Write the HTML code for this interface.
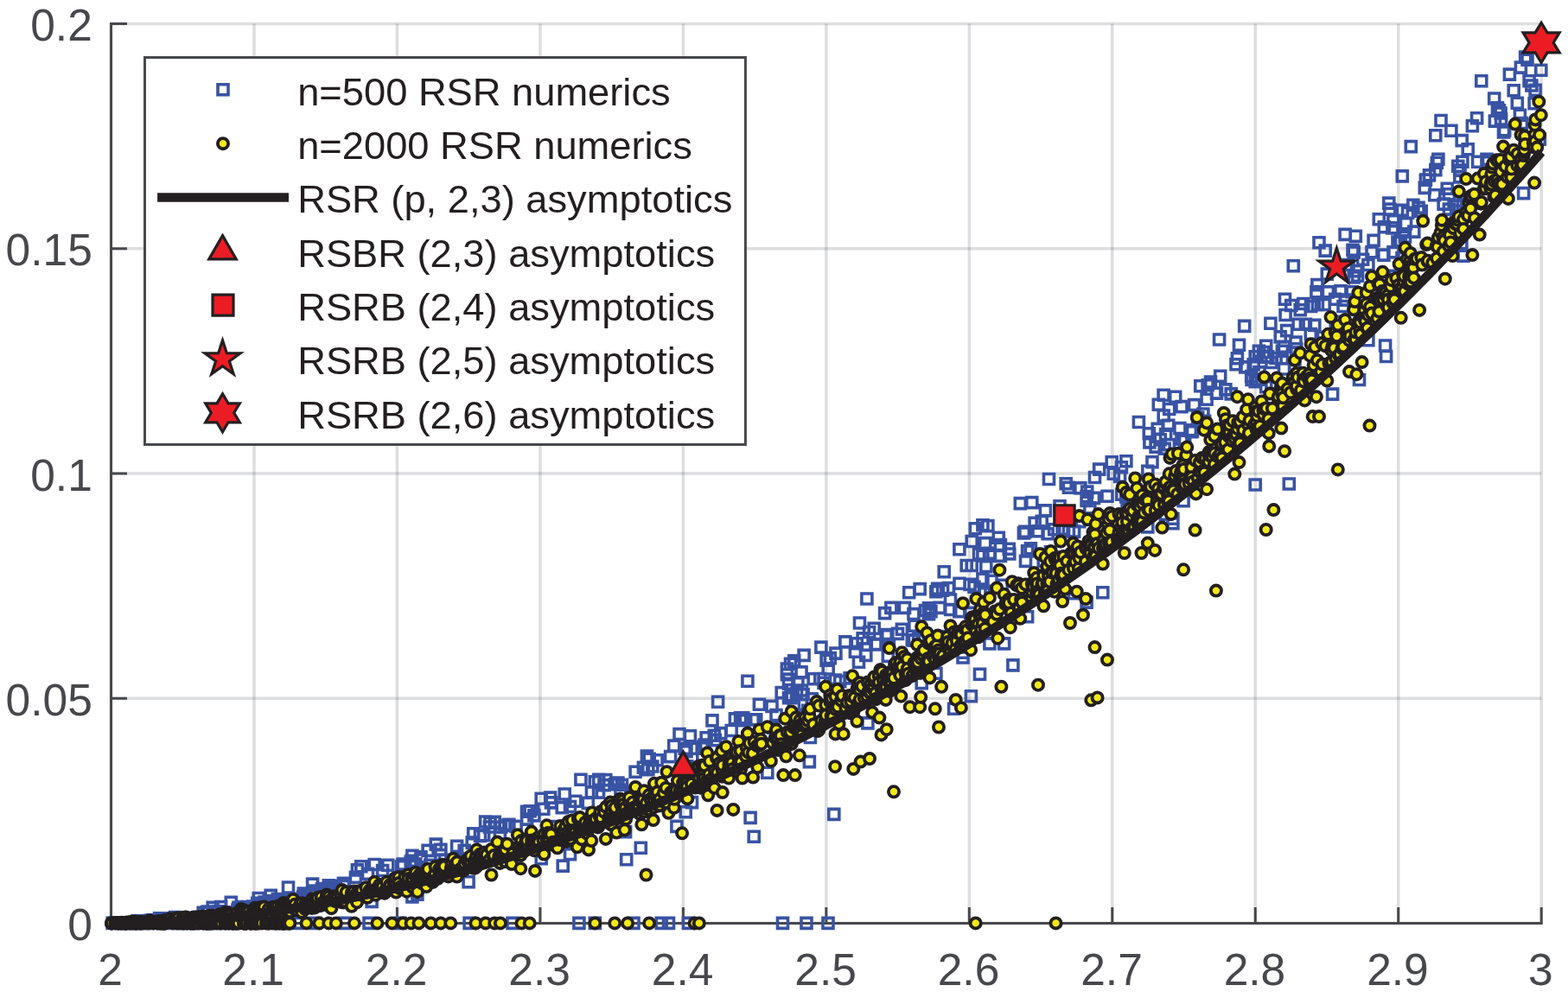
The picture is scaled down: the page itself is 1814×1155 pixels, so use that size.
<!DOCTYPE html>
<html><head><meta charset="utf-8"><title>plot</title>
<style>html,body{margin:0;padding:0;background:#fff;}svg{display:block;}</style>
</head><body>
<svg width="1814" height="1155" viewBox="0 0 1814 1155">
<rect width="1814" height="1155" fill="#ffffff"/>
<path d="M128.50 27.50V1068.40M293.97 27.50V1068.40M459.44 27.50V1068.40M624.91 27.50V1068.40M790.38 27.50V1068.40M955.85 27.50V1068.40M1121.32 27.50V1068.40M1286.79 27.50V1068.40M1452.26 27.50V1068.40M1617.73 27.50V1068.40M1783.20 27.50V1068.40" stroke="rgb(30,36,48)" stroke-opacity="0.15" stroke-width="3.5" fill="none"/>
<path d="M128.50 1068.40H1783.20M128.50 808.18H1783.20M128.50 547.95H1783.20M128.50 287.73H1783.20M128.50 27.50H1783.20" stroke="rgb(30,36,48)" stroke-opacity="0.15" stroke-width="3.5" fill="none"/>
<path d="M128.50 26.00V1068.40H1784.70M128.50 1068.40V1049.90M293.97 1068.40V1049.90M459.44 1068.40V1049.90M624.91 1068.40V1049.90M790.38 1068.40V1049.90M955.85 1068.40V1049.90M1121.32 1068.40V1049.90M1286.79 1068.40V1049.90M1452.26 1068.40V1049.90M1617.73 1068.40V1049.90M1783.20 1068.40V1049.90M128.50 1068.40H147.00M128.50 808.18H147.00M128.50 547.95H147.00M128.50 287.73H147.00M128.50 27.50H147.00" stroke="#47484b" stroke-width="3" fill="none" stroke-linecap="butt"/>
<g font-family="&quot;Liberation Sans&quot;, Arial, sans-serif" font-size="51.5" fill="#47484b">
<text x="127.70" y="1139.8" text-anchor="middle">2</text>
<text x="293.17" y="1139.8" text-anchor="middle">2.1</text>
<text x="458.64" y="1139.8" text-anchor="middle">2.2</text>
<text x="624.11" y="1139.8" text-anchor="middle">2.3</text>
<text x="789.58" y="1139.8" text-anchor="middle">2.4</text>
<text x="955.05" y="1139.8" text-anchor="middle">2.5</text>
<text x="1120.52" y="1139.8" text-anchor="middle">2.6</text>
<text x="1285.99" y="1139.8" text-anchor="middle">2.7</text>
<text x="1451.46" y="1139.8" text-anchor="middle">2.8</text>
<text x="1616.93" y="1139.8" text-anchor="middle">2.9</text>
<text x="1782.40" y="1139.8" text-anchor="middle">3</text>
<text x="106.8" y="1088.10" text-anchor="end">0</text>
<text x="106.8" y="827.88" text-anchor="end">0.05</text>
<text x="106.8" y="567.65" text-anchor="end">0.1</text>
<text x="106.8" y="307.43" text-anchor="end">0.15</text>
<text x="106.8" y="47.20" text-anchor="end">0.2</text>
</g>
<path d="M124.1 1062.4h12.0v12.0h-12.0zM126.5 1062.0h12.0v12.0h-12.0zM132.1 1061.9h12.0v12.0h-12.0zM133.6 1062.4h12.0v12.0h-12.0zM134.2 1061.8h12.0v12.0h-12.0zM135.6 1061.9h12.0v12.0h-12.0zM136.9 1062.4h12.0v12.0h-12.0zM138.7 1061.7h12.0v12.0h-12.0zM139.4 1062.0h12.0v12.0h-12.0zM145.8 1062.4h12.0v12.0h-12.0zM146.4 1062.2h12.0v12.0h-12.0zM153.0 1059.9h12.0v12.0h-12.0zM153.4 1062.4h12.0v12.0h-12.0zM155.7 1062.4h12.0v12.0h-12.0zM155.9 1062.4h12.0v12.0h-12.0zM157.4 1061.7h12.0v12.0h-12.0zM157.8 1062.4h12.0v12.0h-12.0zM158.7 1060.7h12.0v12.0h-12.0zM161.0 1062.4h12.0v12.0h-12.0zM165.2 1062.4h12.0v12.0h-12.0zM167.6 1059.2h12.0v12.0h-12.0zM170.6 1058.8h12.0v12.0h-12.0zM171.5 1060.9h12.0v12.0h-12.0zM174.5 1058.9h12.0v12.0h-12.0zM178.2 1060.0h12.0v12.0h-12.0zM178.6 1056.8h12.0v12.0h-12.0zM178.7 1058.5h12.0v12.0h-12.0zM180.2 1057.8h12.0v12.0h-12.0zM181.8 1058.8h12.0v12.0h-12.0zM181.9 1062.4h12.0v12.0h-12.0zM184.2 1059.4h12.0v12.0h-12.0zM184.7 1056.9h12.0v12.0h-12.0zM186.2 1056.8h12.0v12.0h-12.0zM187.0 1062.4h12.0v12.0h-12.0zM187.6 1056.9h12.0v12.0h-12.0zM190.4 1062.4h12.0v12.0h-12.0zM192.5 1057.9h12.0v12.0h-12.0zM192.7 1056.8h12.0v12.0h-12.0zM193.2 1056.9h12.0v12.0h-12.0zM194.2 1062.4h12.0v12.0h-12.0zM196.7 1055.5h12.0v12.0h-12.0zM201.3 1058.2h12.0v12.0h-12.0zM204.5 1062.4h12.0v12.0h-12.0zM205.7 1062.4h12.0v12.0h-12.0zM208.8 1056.3h12.0v12.0h-12.0zM209.3 1058.3h12.0v12.0h-12.0zM211.4 1062.4h12.0v12.0h-12.0zM212.3 1062.4h12.0v12.0h-12.0zM221.1 1057.1h12.0v12.0h-12.0zM224.7 1062.4h12.0v12.0h-12.0zM227.8 1055.0h12.0v12.0h-12.0zM229.2 1050.4h12.0v12.0h-12.0zM233.6 1049.4h12.0v12.0h-12.0zM235.1 1062.4h12.0v12.0h-12.0zM235.2 1049.1h12.0v12.0h-12.0zM238.8 1062.4h12.0v12.0h-12.0zM246.6 1050.9h12.0v12.0h-12.0zM247.0 1048.8h12.0v12.0h-12.0zM248.8 1062.4h12.0v12.0h-12.0zM252.2 1049.9h12.0v12.0h-12.0zM252.8 1052.7h12.0v12.0h-12.0zM256.7 1050.0h12.0v12.0h-12.0zM261.5 1062.4h12.0v12.0h-12.0zM268.9 1047.0h12.0v12.0h-12.0zM269.9 1044.2h12.0v12.0h-12.0zM272.1 1045.3h12.0v12.0h-12.0zM275.2 1043.5h12.0v12.0h-12.0zM275.6 1043.6h12.0v12.0h-12.0zM280.2 1043.5h12.0v12.0h-12.0zM282.1 1047.6h12.0v12.0h-12.0zM282.4 1044.5h12.0v12.0h-12.0zM285.8 1048.3h12.0v12.0h-12.0zM286.9 1043.1h12.0v12.0h-12.0zM289.0 1048.5h12.0v12.0h-12.0zM290.8 1046.4h12.0v12.0h-12.0zM291.7 1039.3h12.0v12.0h-12.0zM294.3 1039.8h12.0v12.0h-12.0zM295.4 1044.6h12.0v12.0h-12.0zM296.6 1039.8h12.0v12.0h-12.0zM298.4 1039.4h12.0v12.0h-12.0zM300.1 1038.1h12.0v12.0h-12.0zM301.8 1041.1h12.0v12.0h-12.0zM303.1 1040.2h12.0v12.0h-12.0zM306.0 1037.2h12.0v12.0h-12.0zM306.5 1039.0h12.0v12.0h-12.0zM308.4 1044.8h12.0v12.0h-12.0zM308.7 1036.9h12.0v12.0h-12.0zM308.7 1039.3h12.0v12.0h-12.0zM310.7 1038.6h12.0v12.0h-12.0zM314.1 1041.3h12.0v12.0h-12.0zM314.1 1042.3h12.0v12.0h-12.0zM315.2 1034.6h12.0v12.0h-12.0zM315.9 1040.7h12.0v12.0h-12.0zM316.8 1038.1h12.0v12.0h-12.0zM319.3 1038.1h12.0v12.0h-12.0zM324.4 1036.9h12.0v12.0h-12.0zM327.8 1035.5h12.0v12.0h-12.0zM330.3 1035.0h12.0v12.0h-12.0zM330.8 1036.3h12.0v12.0h-12.0zM333.5 1037.4h12.0v12.0h-12.0zM334.3 1034.4h12.0v12.0h-12.0zM339.8 1038.3h12.0v12.0h-12.0zM342.2 1035.6h12.0v12.0h-12.0zM344.6 1032.3h12.0v12.0h-12.0zM344.8 1031.9h12.0v12.0h-12.0zM345.3 1028.1h12.0v12.0h-12.0zM346.7 1034.0h12.0v12.0h-12.0zM353.4 1028.2h12.0v12.0h-12.0zM356.8 1030.1h12.0v12.0h-12.0zM358.8 1025.0h12.0v12.0h-12.0zM363.7 1034.9h12.0v12.0h-12.0zM368.6 1029.8h12.0v12.0h-12.0zM369.0 1027.9h12.0v12.0h-12.0zM373.2 1026.0h12.0v12.0h-12.0zM374.4 1028.4h12.0v12.0h-12.0zM374.7 1028.3h12.0v12.0h-12.0zM376.7 1020.6h12.0v12.0h-12.0zM381.3 1022.9h12.0v12.0h-12.0zM382.2 1019.2h12.0v12.0h-12.0zM383.5 1024.5h12.0v12.0h-12.0zM392.6 1019.5h12.0v12.0h-12.0zM407.4 1000.9h12.0v12.0h-12.0zM411.8 996.8h12.0v12.0h-12.0zM458.7 996.7h12.0v12.0h-12.0zM460.0 994.5h12.0v12.0h-12.0zM469.2 991.4h12.0v12.0h-12.0zM470.3 990.4h12.0v12.0h-12.0zM480.9 988.9h12.0v12.0h-12.0zM482.4 1000.7h12.0v12.0h-12.0zM489.1 978.4h12.0v12.0h-12.0zM491.7 995.2h12.0v12.0h-12.0zM498.3 971.1h12.0v12.0h-12.0zM508.6 989.1h12.0v12.0h-12.0zM526.7 987.7h12.0v12.0h-12.0zM531.2 978.4h12.0v12.0h-12.0zM541.7 958.7h12.0v12.0h-12.0zM544.1 982.3h12.0v12.0h-12.0zM549.5 961.5h12.0v12.0h-12.0zM555.6 945.0h12.0v12.0h-12.0zM560.4 951.0h12.0v12.0h-12.0zM566.3 945.4h12.0v12.0h-12.0zM573.5 951.2h12.0v12.0h-12.0zM578.0 949.4h12.0v12.0h-12.0zM603.5 933.3h12.0v12.0h-12.0zM607.2 932.7h12.0v12.0h-12.0zM622.8 930.2h12.0v12.0h-12.0zM631.5 922.9h12.0v12.0h-12.0zM636.7 950.6h12.0v12.0h-12.0zM644.2 928.8h12.0v12.0h-12.0zM707.4 923.1h12.0v12.0h-12.0zM708.9 900.0h12.0v12.0h-12.0zM711.9 908.4h12.0v12.0h-12.0zM713.5 902.3h12.0v12.0h-12.0zM728.3 913.4h12.0v12.0h-12.0zM738.4 882.2h12.0v12.0h-12.0zM742.4 869.1h12.0v12.0h-12.0zM743.8 884.7h12.0v12.0h-12.0zM745.2 872.2h12.0v12.0h-12.0zM788.0 863.6h12.0v12.0h-12.0zM788.7 880.8h12.0v12.0h-12.0zM806.2 858.2h12.0v12.0h-12.0zM806.8 871.5h12.0v12.0h-12.0zM817.4 875.0h12.0v12.0h-12.0zM818.0 827.9h12.0v12.0h-12.0zM820.3 845.2h12.0v12.0h-12.0zM821.4 850.6h12.0v12.0h-12.0zM850.6 824.8h12.0v12.0h-12.0zM853.9 827.7h12.0v12.0h-12.0zM868.7 826.7h12.0v12.0h-12.0zM882.7 843.2h12.0v12.0h-12.0zM888.7 836.1h12.0v12.0h-12.0zM892.0 821.5h12.0v12.0h-12.0zM908.7 801.7h12.0v12.0h-12.0zM909.1 798.8h12.0v12.0h-12.0zM912.4 810.7h12.0v12.0h-12.0zM913.9 821.4h12.0v12.0h-12.0zM915.5 796.6h12.0v12.0h-12.0zM921.1 771.9h12.0v12.0h-12.0zM921.5 793.0h12.0v12.0h-12.0zM928.7 816.3h12.0v12.0h-12.0zM933.3 802.7h12.0v12.0h-12.0zM935.2 779.8h12.0v12.0h-12.0zM947.0 784.2h12.0v12.0h-12.0zM960.9 750.1h12.0v12.0h-12.0zM985.3 738.8h12.0v12.0h-12.0zM992.1 732.9h12.0v12.0h-12.0zM999.6 725.5h12.0v12.0h-12.0zM1007.0 739.6h12.0v12.0h-12.0zM1019.2 729.7h12.0v12.0h-12.0zM1021.3 753.4h12.0v12.0h-12.0zM1022.4 739.5h12.0v12.0h-12.0zM1032.5 727.4h12.0v12.0h-12.0zM1049.3 734.8h12.0v12.0h-12.0zM1051.5 735.2h12.0v12.0h-12.0zM1056.6 731.8h12.0v12.0h-12.0zM1064.5 700.5h12.0v12.0h-12.0zM1068.5 697.7h12.0v12.0h-12.0zM1070.9 701.6h12.0v12.0h-12.0zM1078.6 675.2h12.0v12.0h-12.0zM1083.8 730.5h12.0v12.0h-12.0zM1084.6 677.2h12.0v12.0h-12.0zM1093.7 699.5h12.0v12.0h-12.0zM1103.8 701.6h12.0v12.0h-12.0zM1104.0 669.2h12.0v12.0h-12.0zM1116.8 703.4h12.0v12.0h-12.0zM1121.0 673.3h12.0v12.0h-12.0zM1128.0 678.4h12.0v12.0h-12.0zM1132.5 680.2h12.0v12.0h-12.0zM1133.2 680.7h12.0v12.0h-12.0zM1139.1 634.3h12.0v12.0h-12.0zM1151.4 637.4h12.0v12.0h-12.0zM1153.3 671.2h12.0v12.0h-12.0zM1161.2 629.2h12.0v12.0h-12.0zM1179.9 609.4h12.0v12.0h-12.0zM1186.4 628.9h12.0v12.0h-12.0zM1191.1 599.3h12.0v12.0h-12.0zM1201.2 643.1h12.0v12.0h-12.0zM1206.1 611.8h12.0v12.0h-12.0zM1209.4 632.7h12.0v12.0h-12.0zM1210.6 638.4h12.0v12.0h-12.0zM1223.1 606.2h12.0v12.0h-12.0zM1233.5 595.6h12.0v12.0h-12.0zM1251.7 563.1h12.0v12.0h-12.0zM1254.8 581.8h12.0v12.0h-12.0zM1291.4 534.7h12.0v12.0h-12.0zM1296.7 568.9h12.0v12.0h-12.0zM1298.1 583.7h12.0v12.0h-12.0zM1323.3 495.8h12.0v12.0h-12.0zM1341.2 513.2h12.0v12.0h-12.0zM1346.4 508.6h12.0v12.0h-12.0zM1351.0 542.7h12.0v12.0h-12.0zM1364.6 504.1h12.0v12.0h-12.0zM1372.5 493.8h12.0v12.0h-12.0zM1373.5 492.9h12.0v12.0h-12.0zM1387.6 481.4h12.0v12.0h-12.0zM1394.5 436.1h12.0v12.0h-12.0zM1418.2 449.9h12.0v12.0h-12.0zM1424.0 415.8h12.0v12.0h-12.0zM1441.7 429.5h12.0v12.0h-12.0zM1444.2 415.9h12.0v12.0h-12.0zM1449.3 433.3h12.0v12.0h-12.0zM1451.0 424.9h12.0v12.0h-12.0zM1455.7 401.5h12.0v12.0h-12.0zM1459.2 407.2h12.0v12.0h-12.0zM1464.9 413.5h12.0v12.0h-12.0zM1481.1 358.5h12.0v12.0h-12.0zM1493.8 397.8h12.0v12.0h-12.0zM1501.8 345.5h12.0v12.0h-12.0zM1510.3 380.6h12.0v12.0h-12.0zM1517.9 323.6h12.0v12.0h-12.0zM1518.4 346.6h12.0v12.0h-12.0zM1524.6 384.2h12.0v12.0h-12.0zM1539.3 366.4h12.0v12.0h-12.0zM1550.3 341.1h12.0v12.0h-12.0zM1559.0 283.4h12.0v12.0h-12.0zM1594.9 289.1h12.0v12.0h-12.0zM1595.3 256.7h12.0v12.0h-12.0zM1607.8 313.4h12.0v12.0h-12.0zM1611.0 274.1h12.0v12.0h-12.0zM1614.4 272.6h12.0v12.0h-12.0zM1616.0 292.6h12.0v12.0h-12.0zM1621.5 299.6h12.0v12.0h-12.0zM1628.9 231.3h12.0v12.0h-12.0zM1656.3 182.2h12.0v12.0h-12.0zM1668.2 212.3h12.0v12.0h-12.0zM1680.8 186.2h12.0v12.0h-12.0zM1683.0 191.1h12.0v12.0h-12.0zM1685.2 156.6h12.0v12.0h-12.0zM1686.4 230.4h12.0v12.0h-12.0zM1694.3 223.1h12.0v12.0h-12.0zM1714.1 181.6h12.0v12.0h-12.0zM1722.7 108.0h12.0v12.0h-12.0zM1728.5 121.8h12.0v12.0h-12.0zM1730.1 125.0h12.0v12.0h-12.0zM1730.6 132.1h12.0v12.0h-12.0zM1733.5 146.9h12.0v12.0h-12.0zM1734.7 144.9h12.0v12.0h-12.0zM1753.4 72.1h12.0v12.0h-12.0zM1761.0 63.1h12.0v12.0h-12.0zM1763.1 87.8h12.0v12.0h-12.0zM240.2 1044.4h12.0v12.0h-12.0zM249.6 1043.6h12.0v12.0h-12.0zM261.3 1038.2h12.0v12.0h-12.0zM293.2 1033.5h12.0v12.0h-12.0zM307.2 1030.4h12.0v12.0h-12.0zM318.2 1062.4h12.0v12.0h-12.0zM327.5 1021.0h12.0v12.0h-12.0zM338.4 1062.4h12.0v12.0h-12.0zM355.6 1017.1h12.0v12.0h-12.0zM358.7 1062.4h12.0v12.0h-12.0zM366.5 1022.6h12.0v12.0h-12.0zM374.3 1018.7h12.0v12.0h-12.0zM391.4 1016.3h12.0v12.0h-12.0zM393.0 1062.4h12.0v12.0h-12.0zM405.4 1009.3h12.0v12.0h-12.0zM419.5 1005.4h12.0v12.0h-12.0zM421.0 1062.4h12.0v12.0h-12.0zM424.1 1037.4h12.0v12.0h-12.0zM427.2 994.5h12.0v12.0h-12.0zM436.6 1001.5h12.0v12.0h-12.0zM442.8 995.3h12.0v12.0h-12.0zM457.1 1062.4h12.0v12.0h-12.0zM460.2 994.0h12.0v12.0h-12.0zM470.9 984.4h12.0v12.0h-12.0zM470.9 1031.9h12.0v12.0h-12.0zM474.8 994.0h12.0v12.0h-12.0zM476.9 1029.3h12.0v12.0h-12.0zM481.0 985.7h12.0v12.0h-12.0zM503.9 977.4h12.0v12.0h-12.0zM503.9 983.6h12.0v12.0h-12.0zM522.6 973.2h12.0v12.0h-12.0zM536.1 1014.8h12.0v12.0h-12.0zM537.1 1062.4h12.0v12.0h-12.0zM540.2 969.1h12.0v12.0h-12.0zM553.7 960.8h12.0v12.0h-12.0zM561.0 946.2h12.0v12.0h-12.0zM572.4 958.7h12.0v12.0h-12.0zM582.8 948.3h12.0v12.0h-12.0zM587.0 1062.4h12.0v12.0h-12.0zM591.1 950.4h12.0v12.0h-12.0zM603.6 942.1h12.0v12.0h-12.0zM611.9 937.9h12.0v12.0h-12.0zM620.2 918.2h12.0v12.0h-12.0zM620.2 987.8h12.0v12.0h-12.0zM630.6 917.1h12.0v12.0h-12.0zM645.2 996.1h12.0v12.0h-12.0zM647.2 913.0h12.0v12.0h-12.0zM653.5 927.5h12.0v12.0h-12.0zM653.5 982.6h12.0v12.0h-12.0zM659.7 921.3h12.0v12.0h-12.0zM663.9 1062.4h12.0v12.0h-12.0zM665.9 896.3h12.0v12.0h-12.0zM674.3 923.4h12.0v12.0h-12.0zM678.4 910.9h12.0v12.0h-12.0zM682.3 1062.4h12.0v12.0h-12.0zM682.3 898.7h12.0v12.0h-12.0zM686.5 911.1h12.0v12.0h-12.0zM686.7 896.3h12.0v12.0h-12.0zM693.0 902.6h12.0v12.0h-12.0zM694.8 896.6h12.0v12.0h-12.0zM705.2 901.8h12.0v12.0h-12.0zM717.6 956.6h12.0v12.0h-12.0zM718.7 988.8h12.0v12.0h-12.0zM727.0 1062.4h12.0v12.0h-12.0zM729.1 887.2h12.0v12.0h-12.0zM735.3 975.3h12.0v12.0h-12.0zM748.8 881.0h12.0v12.0h-12.0zM754.0 873.7h12.0v12.0h-12.0zM759.2 1062.4h12.0v12.0h-12.0zM767.5 1062.4h12.0v12.0h-12.0zM769.6 869.6h12.0v12.0h-12.0zM773.7 857.1h12.0v12.0h-12.0zM776.9 950.4h12.0v12.0h-12.0zM780.0 843.6h12.0v12.0h-12.0zM786.2 860.2h12.0v12.0h-12.0zM787.2 933.7h12.0v12.0h-12.0zM790.4 1062.4h12.0v12.0h-12.0zM792.4 845.7h12.0v12.0h-12.0zM794.5 922.6h12.0v12.0h-12.0zM798.7 860.2h12.0v12.0h-12.0zM809.1 856.1h12.0v12.0h-12.0zM811.1 847.8h12.0v12.0h-12.0zM824.6 806.2h12.0v12.0h-12.0zM827.8 842.6h12.0v12.0h-12.0zM840.2 839.5h12.0v12.0h-12.0zM844.4 825.9h12.0v12.0h-12.0zM853.7 824.9h12.0v12.0h-12.0zM858.9 782.3h12.0v12.0h-12.0zM862.1 940.4h12.0v12.0h-12.0zM865.2 827.0h12.0v12.0h-12.0zM866.2 962.2h12.0v12.0h-12.0zM872.4 809.3h12.0v12.0h-12.0zM881.8 888.3h12.0v12.0h-12.0zM887.0 811.4h12.0v12.0h-12.0zM898.2 795.6h12.0v12.0h-12.0zM899.5 1062.4h12.0v12.0h-12.0zM904.4 768.0h12.0v12.0h-12.0zM904.4 774.8h12.0v12.0h-12.0zM906.5 780.5h12.0v12.0h-12.0zM906.5 785.2h12.0v12.0h-12.0zM906.5 801.8h12.0v12.0h-12.0zM908.5 762.3h12.0v12.0h-12.0zM912.7 758.7h12.0v12.0h-12.0zM916.9 784.6h12.0v12.0h-12.0zM923.1 797.6h12.0v12.0h-12.0zM924.1 752.4h12.0v12.0h-12.0zM927.0 1062.4h12.0v12.0h-12.0zM930.4 875.6h12.0v12.0h-12.0zM931.4 847.5h12.0v12.0h-12.0zM942.8 779.5h12.0v12.0h-12.0zM943.9 743.1h12.0v12.0h-12.0zM950.1 758.2h12.0v12.0h-12.0zM952.0 1062.4h12.0v12.0h-12.0zM952.2 768.0h12.0v12.0h-12.0zM954.3 755.6h12.0v12.0h-12.0zM958.8 936.4h12.0v12.0h-12.0zM960.5 781.0h12.0v12.0h-12.0zM962.6 791.4h12.0v12.0h-12.0zM965.7 782.6h12.0v12.0h-12.0zM971.9 736.9h12.0v12.0h-12.0zM977.1 778.9h12.0v12.0h-12.0zM983.4 748.3h12.0v12.0h-12.0zM987.5 760.2h12.0v12.0h-12.0zM988.5 715.0h12.0v12.0h-12.0zM995.8 752.4h12.0v12.0h-12.0zM996.9 687.0h12.0v12.0h-12.0zM997.9 830.9h12.0v12.0h-12.0zM1005.2 721.3h12.0v12.0h-12.0zM1008.3 740.0h12.0v12.0h-12.0zM1017.6 703.6h12.0v12.0h-12.0zM1020.8 728.5h12.0v12.0h-12.0zM1024.9 697.4h12.0v12.0h-12.0zM1037.4 722.3h12.0v12.0h-12.0zM1040.5 697.4h12.0v12.0h-12.0zM1045.7 679.7h12.0v12.0h-12.0zM1050.9 704.6h12.0v12.0h-12.0zM1051.9 718.2h12.0v12.0h-12.0zM1058.2 675.6h12.0v12.0h-12.0zM1060.2 784.6h12.0v12.0h-12.0zM1068.5 704.6h12.0v12.0h-12.0zM1076.9 678.7h12.0v12.0h-12.0zM1076.9 773.2h12.0v12.0h-12.0zM1081.0 697.4h12.0v12.0h-12.0zM1086.2 655.8h12.0v12.0h-12.0zM1091.4 674.5h12.0v12.0h-12.0zM1093.5 688.0h12.0v12.0h-12.0zM1097.6 814.3h12.0v12.0h-12.0zM1103.9 629.8h12.0v12.0h-12.0zM1108.0 749.3h12.0v12.0h-12.0zM1108.0 755.0h12.0v12.0h-12.0zM1112.2 648.5h12.0v12.0h-12.0zM1116.1 670.4h12.0v12.0h-12.0zM1117.4 799.7h12.0v12.0h-12.0zM1118.2 620.5h12.0v12.0h-12.0zM1118.2 648.5h12.0v12.0h-12.0zM1122.3 605.7h12.0v12.0h-12.0zM1126.5 635.0h12.0v12.0h-12.0zM1127.5 774.3h12.0v12.0h-12.0zM1130.9 601.8h12.0v12.0h-12.0zM1130.9 637.1h12.0v12.0h-12.0zM1130.9 664.1h12.0v12.0h-12.0zM1133.7 622.6h12.0v12.0h-12.0zM1134.8 649.6h12.0v12.0h-12.0zM1136.9 602.6h12.0v12.0h-12.0zM1138.9 637.1h12.0v12.0h-12.0zM1138.9 738.9h12.0v12.0h-12.0zM1141.0 666.2h12.0v12.0h-12.0zM1149.3 616.3h12.0v12.0h-12.0zM1151.4 624.6h12.0v12.0h-12.0zM1155.6 738.9h12.0v12.0h-12.0zM1161.8 635.0h12.0v12.0h-12.0zM1165.9 763.9h12.0v12.0h-12.0zM1174.3 576.6h12.0v12.0h-12.0zM1178.4 610.9h12.0v12.0h-12.0zM1180.5 643.4h12.0v12.0h-12.0zM1182.6 631.9h12.0v12.0h-12.0zM1182.6 707.8h12.0v12.0h-12.0zM1187.8 575.6h12.0v12.0h-12.0zM1195.0 608.8h12.0v12.0h-12.0zM1199.2 597.4h12.0v12.0h-12.0zM1203.4 584.9h12.0v12.0h-12.0zM1207.5 548.5h12.0v12.0h-12.0zM1213.7 606.7h12.0v12.0h-12.0zM1220.0 579.7h12.0v12.0h-12.0zM1227.2 553.7h12.0v12.0h-12.0zM1230.4 558.2h12.0v12.0h-12.0zM1230.4 608.8h12.0v12.0h-12.0zM1236.6 609.1h12.0v12.0h-12.0zM1236.6 680.8h12.0v12.0h-12.0zM1242.8 597.6h12.0v12.0h-12.0zM1243.9 558.9h12.0v12.0h-12.0zM1247.0 643.4h12.0v12.0h-12.0zM1251.1 568.5h12.0v12.0h-12.0zM1251.1 573.5h12.0v12.0h-12.0zM1251.1 691.1h12.0v12.0h-12.0zM1259.5 570.4h12.0v12.0h-12.0zM1260.5 546.5h12.0v12.0h-12.0zM1265.7 537.1h12.0v12.0h-12.0zM1269.8 679.7h12.0v12.0h-12.0zM1275.0 568.3h12.0v12.0h-12.0zM1280.2 528.8h12.0v12.0h-12.0zM1282.3 542.3h12.0v12.0h-12.0zM1289.6 545.4h12.0v12.0h-12.0zM1291.7 566.2h12.0v12.0h-12.0zM1296.9 527.8h12.0v12.0h-12.0zM1311.4 482.5h12.0v12.0h-12.0zM1321.8 539.2h12.0v12.0h-12.0zM1321.8 603.9h12.0v12.0h-12.0zM1323.9 505.9h12.0v12.0h-12.0zM1327.0 528.8h12.0v12.0h-12.0zM1331.1 511.1h12.0v12.0h-12.0zM1333.2 490.4h12.0v12.0h-12.0zM1334.3 462.3h12.0v12.0h-12.0zM1336.3 502.8h12.0v12.0h-12.0zM1340.1 451.3h12.0v12.0h-12.0zM1340.2 475.0h12.0v12.0h-12.0zM1342.3 589.3h12.0v12.0h-12.0zM1342.6 496.6h12.0v12.0h-12.0zM1345.7 486.2h12.0v12.0h-12.0zM1346.7 467.5h12.0v12.0h-12.0zM1350.9 594.3h12.0v12.0h-12.0zM1350.9 599.7h12.0v12.0h-12.0zM1353.7 453.2h12.0v12.0h-12.0zM1358.9 489.6h12.0v12.0h-12.0zM1361.0 464.6h12.0v12.0h-12.0zM1361.0 502.1h12.0v12.0h-12.0zM1363.1 573.7h12.0v12.0h-12.0zM1371.4 491.7h12.0v12.0h-12.0zM1375.6 462.6h12.0v12.0h-12.0zM1379.7 477.1h12.0v12.0h-12.0zM1382.8 440.8h12.0v12.0h-12.0zM1385.9 473.0h12.0v12.0h-12.0zM1390.1 456.3h12.0v12.0h-12.0zM1391.1 439.7h12.0v12.0h-12.0zM1401.5 449.1h12.0v12.0h-12.0zM1404.6 387.0h12.0v12.0h-12.0zM1405.7 429.3h12.0v12.0h-12.0zM1411.9 444.9h12.0v12.0h-12.0zM1425.4 408.8h12.0v12.0h-12.0zM1427.5 393.2h12.0v12.0h-12.0zM1433.7 371.4h12.0v12.0h-12.0zM1434.8 418.9h12.0v12.0h-12.0zM1442.1 433.5h12.0v12.0h-12.0zM1446.2 406.7h12.0v12.0h-12.0zM1446.2 435.6h12.0v12.0h-12.0zM1446.2 555.0h12.0v12.0h-12.0zM1450.4 400.2h12.0v12.0h-12.0zM1458.7 394.3h12.0v12.0h-12.0zM1458.7 441.8h12.0v12.0h-12.0zM1460.8 406.7h12.0v12.0h-12.0zM1463.9 368.3h12.0v12.0h-12.0zM1464.9 437.6h12.0v12.0h-12.0zM1470.1 408.5h12.0v12.0h-12.0zM1475.3 383.9h12.0v12.0h-12.0zM1477.4 400.2h12.0v12.0h-12.0zM1477.4 408.8h12.0v12.0h-12.0zM1479.5 395.3h12.0v12.0h-12.0zM1479.5 421.0h12.0v12.0h-12.0zM1480.5 340.2h12.0v12.0h-12.0zM1482.6 376.6h12.0v12.0h-12.0zM1485.3 554.0h12.0v12.0h-12.0zM1487.8 347.5h12.0v12.0h-12.0zM1490.3 301.8h12.0v12.0h-12.0zM1491.9 418.9h12.0v12.0h-12.0zM1493.0 390.1h12.0v12.0h-12.0zM1496.1 369.3h12.0v12.0h-12.0zM1498.2 352.7h12.0v12.0h-12.0zM1504.4 369.3h12.0v12.0h-12.0zM1510.6 348.5h12.0v12.0h-12.0zM1514.8 370.4h12.0v12.0h-12.0zM1516.9 331.9h12.0v12.0h-12.0zM1520.0 274.8h12.0v12.0h-12.0zM1526.2 346.5h12.0v12.0h-12.0zM1527.2 284.1h12.0v12.0h-12.0zM1529.3 311.1h12.0v12.0h-12.0zM1530.4 331.9h12.0v12.0h-12.0zM1535.6 450.1h12.0v12.0h-12.0zM1538.7 340.2h12.0v12.0h-12.0zM1544.9 330.9h12.0v12.0h-12.0zM1548.0 348.5h12.0v12.0h-12.0zM1550.1 265.4h12.0v12.0h-12.0zM1554.0 300.5h12.0v12.0h-12.0zM1558.2 331.7h12.0v12.0h-12.0zM1560.2 285.9h12.0v12.0h-12.0zM1560.2 315.0h12.0v12.0h-12.0zM1562.3 267.2h12.0v12.0h-12.0zM1563.4 307.8h12.0v12.0h-12.0zM1564.6 313.2h12.0v12.0h-12.0zM1566.5 433.5h12.0v12.0h-12.0zM1570.6 294.3h12.0v12.0h-12.0zM1576.9 300.5h12.0v12.0h-12.0zM1576.9 387.8h12.0v12.0h-12.0zM1581.0 285.9h12.0v12.0h-12.0zM1583.1 272.4h12.0v12.0h-12.0zM1589.3 247.8h12.0v12.0h-12.0zM1596.6 394.0h12.0v12.0h-12.0zM1597.6 406.5h12.0v12.0h-12.0zM1600.8 229.1h12.0v12.0h-12.0zM1601.8 236.1h12.0v12.0h-12.0zM1604.9 257.9h12.0v12.0h-12.0zM1605.9 249.8h12.0v12.0h-12.0zM1605.9 285.9h12.0v12.0h-12.0zM1616.3 197.9h12.0v12.0h-12.0zM1616.3 237.4h12.0v12.0h-12.0zM1619.5 268.3h12.0v12.0h-12.0zM1620.5 252.7h12.0v12.0h-12.0zM1622.6 240.2h12.0v12.0h-12.0zM1626.3 163.6h12.0v12.0h-12.0zM1629.8 262.1h12.0v12.0h-12.0zM1635.0 234.3h12.0v12.0h-12.0zM1638.2 238.2h12.0v12.0h-12.0zM1642.3 211.4h12.0v12.0h-12.0zM1643.4 202.1h12.0v12.0h-12.0zM1647.5 196.9h12.0v12.0h-12.0zM1653.7 219.7h12.0v12.0h-12.0zM1654.8 150.7h12.0v12.0h-12.0zM1654.8 190.6h12.0v12.0h-12.0zM1657.9 178.2h12.0v12.0h-12.0zM1661.0 133.5h12.0v12.0h-12.0zM1664.1 230.1h12.0v12.0h-12.0zM1664.1 265.2h12.0v12.0h-12.0zM1670.4 218.7h12.0v12.0h-12.0zM1670.4 236.1h12.0v12.0h-12.0zM1672.9 145.3h12.0v12.0h-12.0zM1678.7 232.2h12.0v12.0h-12.0zM1678.7 238.2h12.0v12.0h-12.0zM1678.7 265.2h12.0v12.0h-12.0zM1682.8 198.9h12.0v12.0h-12.0zM1684.9 275.6h12.0v12.0h-12.0zM1685.9 181.3h12.0v12.0h-12.0zM1687.0 290.1h12.0v12.0h-12.0zM1692.2 166.7h12.0v12.0h-12.0zM1697.4 139.7h12.0v12.0h-12.0zM1702.6 130.8h12.0v12.0h-12.0zM1703.6 181.3h12.0v12.0h-12.0zM1707.8 87.8h12.0v12.0h-12.0zM1714.0 178.2h12.0v12.0h-12.0zM1723.4 134.1h12.0v12.0h-12.0zM1726.5 118.9h12.0v12.0h-12.0zM1733.7 147.0h12.0v12.0h-12.0zM1740.4 80.1h12.0v12.0h-12.0zM1745.2 98.8h12.0v12.0h-12.0zM1749.3 113.3h12.0v12.0h-12.0zM1752.4 127.2h12.0v12.0h-12.0zM1754.5 136.6h12.0v12.0h-12.0zM1756.6 217.6h12.0v12.0h-12.0zM1758.7 60.1h12.0v12.0h-12.0zM1765.9 93.0h12.0v12.0h-12.0zM1769.1 113.7h12.0v12.0h-12.0zM1770.1 98.2h12.0v12.0h-12.0zM1775.3 155.3h12.0v12.0h-12.0zM1776.8 75.3h12.0v12.0h-12.0z" stroke="#3953a4" stroke-width="3.6" fill="none"/>
<g fill="#f3e917" stroke="#231f20" stroke-width="3.8"><circle cx="129.0" cy="1068.4" r="6.1"/><circle cx="129.0" cy="1068.4" r="6.1"/><circle cx="129.2" cy="1068.4" r="6.1"/><circle cx="133.4" cy="1068.4" r="6.1"/><circle cx="133.6" cy="1068.2" r="6.1"/><circle cx="135.5" cy="1067.9" r="6.1"/><circle cx="136.2" cy="1068.3" r="6.1"/><circle cx="136.3" cy="1068.4" r="6.1"/><circle cx="136.6" cy="1068.4" r="6.1"/><circle cx="136.8" cy="1068.1" r="6.1"/><circle cx="137.0" cy="1067.9" r="6.1"/><circle cx="138.1" cy="1068.4" r="6.1"/><circle cx="139.5" cy="1068.4" r="6.1"/><circle cx="140.6" cy="1068.4" r="6.1"/><circle cx="140.6" cy="1068.0" r="6.1"/><circle cx="140.9" cy="1068.2" r="6.1"/><circle cx="141.0" cy="1067.7" r="6.1"/><circle cx="142.4" cy="1068.4" r="6.1"/><circle cx="144.2" cy="1068.4" r="6.1"/><circle cx="144.3" cy="1068.4" r="6.1"/><circle cx="145.0" cy="1068.1" r="6.1"/><circle cx="145.4" cy="1068.3" r="6.1"/><circle cx="145.7" cy="1068.4" r="6.1"/><circle cx="145.7" cy="1068.4" r="6.1"/><circle cx="146.0" cy="1068.3" r="6.1"/><circle cx="146.4" cy="1068.4" r="6.1"/><circle cx="146.5" cy="1067.6" r="6.1"/><circle cx="146.9" cy="1068.4" r="6.1"/><circle cx="149.3" cy="1068.0" r="6.1"/><circle cx="149.3" cy="1067.9" r="6.1"/><circle cx="149.8" cy="1068.4" r="6.1"/><circle cx="150.8" cy="1068.4" r="6.1"/><circle cx="150.8" cy="1066.9" r="6.1"/><circle cx="151.8" cy="1067.7" r="6.1"/><circle cx="152.2" cy="1067.7" r="6.1"/><circle cx="152.4" cy="1067.5" r="6.1"/><circle cx="152.6" cy="1067.3" r="6.1"/><circle cx="152.6" cy="1068.4" r="6.1"/><circle cx="154.3" cy="1068.4" r="6.1"/><circle cx="155.3" cy="1068.3" r="6.1"/><circle cx="155.8" cy="1066.6" r="6.1"/><circle cx="155.8" cy="1067.6" r="6.1"/><circle cx="156.3" cy="1068.4" r="6.1"/><circle cx="156.6" cy="1067.2" r="6.1"/><circle cx="157.4" cy="1068.4" r="6.1"/><circle cx="157.8" cy="1068.4" r="6.1"/><circle cx="157.9" cy="1068.4" r="6.1"/><circle cx="160.0" cy="1068.4" r="6.1"/><circle cx="161.9" cy="1066.9" r="6.1"/><circle cx="162.0" cy="1067.5" r="6.1"/><circle cx="162.1" cy="1067.4" r="6.1"/><circle cx="162.3" cy="1068.4" r="6.1"/><circle cx="162.4" cy="1067.1" r="6.1"/><circle cx="162.6" cy="1067.5" r="6.1"/><circle cx="162.6" cy="1068.4" r="6.1"/><circle cx="163.3" cy="1068.4" r="6.1"/><circle cx="165.1" cy="1068.4" r="6.1"/><circle cx="167.3" cy="1068.2" r="6.1"/><circle cx="167.4" cy="1067.2" r="6.1"/><circle cx="167.4" cy="1067.5" r="6.1"/><circle cx="170.0" cy="1068.4" r="6.1"/><circle cx="172.5" cy="1068.4" r="6.1"/><circle cx="173.3" cy="1065.3" r="6.1"/><circle cx="174.7" cy="1066.5" r="6.1"/><circle cx="177.4" cy="1068.4" r="6.1"/><circle cx="179.3" cy="1067.1" r="6.1"/><circle cx="179.7" cy="1067.8" r="6.1"/><circle cx="181.4" cy="1067.1" r="6.1"/><circle cx="182.1" cy="1068.3" r="6.1"/><circle cx="182.2" cy="1068.4" r="6.1"/><circle cx="183.7" cy="1067.9" r="6.1"/><circle cx="183.8" cy="1066.0" r="6.1"/><circle cx="183.9" cy="1066.3" r="6.1"/><circle cx="184.5" cy="1068.4" r="6.1"/><circle cx="184.7" cy="1066.9" r="6.1"/><circle cx="185.7" cy="1068.4" r="6.1"/><circle cx="186.8" cy="1068.4" r="6.1"/><circle cx="188.1" cy="1068.4" r="6.1"/><circle cx="188.9" cy="1067.2" r="6.1"/><circle cx="189.0" cy="1068.4" r="6.1"/><circle cx="189.1" cy="1068.4" r="6.1"/><circle cx="190.0" cy="1065.2" r="6.1"/><circle cx="190.8" cy="1068.4" r="6.1"/><circle cx="190.9" cy="1068.4" r="6.1"/><circle cx="191.0" cy="1068.4" r="6.1"/><circle cx="191.3" cy="1066.1" r="6.1"/><circle cx="192.0" cy="1065.0" r="6.1"/><circle cx="193.4" cy="1065.7" r="6.1"/><circle cx="196.1" cy="1065.4" r="6.1"/><circle cx="196.9" cy="1063.3" r="6.1"/><circle cx="198.2" cy="1067.0" r="6.1"/><circle cx="200.1" cy="1068.4" r="6.1"/><circle cx="200.4" cy="1065.1" r="6.1"/><circle cx="201.4" cy="1064.8" r="6.1"/><circle cx="203.2" cy="1063.2" r="6.1"/><circle cx="203.7" cy="1066.3" r="6.1"/><circle cx="204.4" cy="1068.4" r="6.1"/><circle cx="204.7" cy="1062.4" r="6.1"/><circle cx="204.8" cy="1067.2" r="6.1"/><circle cx="206.1" cy="1064.3" r="6.1"/><circle cx="206.2" cy="1067.1" r="6.1"/><circle cx="206.4" cy="1062.4" r="6.1"/><circle cx="207.1" cy="1068.4" r="6.1"/><circle cx="210.1" cy="1068.4" r="6.1"/><circle cx="211.0" cy="1063.6" r="6.1"/><circle cx="211.5" cy="1062.3" r="6.1"/><circle cx="212.0" cy="1065.7" r="6.1"/><circle cx="212.3" cy="1065.4" r="6.1"/><circle cx="212.6" cy="1068.4" r="6.1"/><circle cx="212.6" cy="1068.4" r="6.1"/><circle cx="213.7" cy="1064.3" r="6.1"/><circle cx="214.0" cy="1061.8" r="6.1"/><circle cx="214.3" cy="1067.5" r="6.1"/><circle cx="214.8" cy="1067.5" r="6.1"/><circle cx="214.9" cy="1061.4" r="6.1"/><circle cx="215.9" cy="1068.4" r="6.1"/><circle cx="216.3" cy="1064.8" r="6.1"/><circle cx="216.5" cy="1068.4" r="6.1"/><circle cx="217.9" cy="1064.6" r="6.1"/><circle cx="218.1" cy="1065.5" r="6.1"/><circle cx="219.2" cy="1064.9" r="6.1"/><circle cx="220.0" cy="1068.4" r="6.1"/><circle cx="220.8" cy="1068.4" r="6.1"/><circle cx="221.6" cy="1064.3" r="6.1"/><circle cx="222.3" cy="1068.4" r="6.1"/><circle cx="222.9" cy="1068.4" r="6.1"/><circle cx="224.3" cy="1065.1" r="6.1"/><circle cx="224.3" cy="1061.6" r="6.1"/><circle cx="224.4" cy="1064.4" r="6.1"/><circle cx="224.6" cy="1068.4" r="6.1"/><circle cx="224.6" cy="1068.4" r="6.1"/><circle cx="225.7" cy="1063.3" r="6.1"/><circle cx="227.3" cy="1068.4" r="6.1"/><circle cx="227.9" cy="1064.4" r="6.1"/><circle cx="229.3" cy="1064.6" r="6.1"/><circle cx="229.6" cy="1061.4" r="6.1"/><circle cx="230.0" cy="1068.4" r="6.1"/><circle cx="230.3" cy="1064.1" r="6.1"/><circle cx="230.8" cy="1061.7" r="6.1"/><circle cx="231.5" cy="1062.0" r="6.1"/><circle cx="233.4" cy="1060.4" r="6.1"/><circle cx="233.4" cy="1065.1" r="6.1"/><circle cx="233.7" cy="1065.6" r="6.1"/><circle cx="235.0" cy="1068.4" r="6.1"/><circle cx="235.7" cy="1062.1" r="6.1"/><circle cx="235.8" cy="1068.4" r="6.1"/><circle cx="236.1" cy="1064.8" r="6.1"/><circle cx="236.8" cy="1062.7" r="6.1"/><circle cx="238.4" cy="1068.4" r="6.1"/><circle cx="238.5" cy="1068.4" r="6.1"/><circle cx="239.9" cy="1068.4" r="6.1"/><circle cx="240.1" cy="1060.7" r="6.1"/><circle cx="240.4" cy="1068.4" r="6.1"/><circle cx="240.8" cy="1068.4" r="6.1"/><circle cx="242.6" cy="1068.4" r="6.1"/><circle cx="243.1" cy="1068.4" r="6.1"/><circle cx="243.8" cy="1059.4" r="6.1"/><circle cx="244.4" cy="1068.4" r="6.1"/><circle cx="244.5" cy="1061.3" r="6.1"/><circle cx="244.9" cy="1068.4" r="6.1"/><circle cx="246.3" cy="1061.4" r="6.1"/><circle cx="246.7" cy="1062.6" r="6.1"/><circle cx="247.1" cy="1068.4" r="6.1"/><circle cx="249.5" cy="1060.3" r="6.1"/><circle cx="249.7" cy="1061.9" r="6.1"/><circle cx="250.7" cy="1068.4" r="6.1"/><circle cx="251.4" cy="1064.9" r="6.1"/><circle cx="252.3" cy="1061.0" r="6.1"/><circle cx="252.9" cy="1060.8" r="6.1"/><circle cx="254.1" cy="1062.1" r="6.1"/><circle cx="254.2" cy="1058.3" r="6.1"/><circle cx="254.5" cy="1068.4" r="6.1"/><circle cx="255.9" cy="1068.4" r="6.1"/><circle cx="256.3" cy="1059.1" r="6.1"/><circle cx="260.3" cy="1068.4" r="6.1"/><circle cx="260.5" cy="1055.9" r="6.1"/><circle cx="261.1" cy="1068.4" r="6.1"/><circle cx="261.9" cy="1062.7" r="6.1"/><circle cx="262.8" cy="1058.6" r="6.1"/><circle cx="263.9" cy="1056.6" r="6.1"/><circle cx="264.0" cy="1068.4" r="6.1"/><circle cx="265.4" cy="1068.4" r="6.1"/><circle cx="265.5" cy="1059.4" r="6.1"/><circle cx="266.0" cy="1060.0" r="6.1"/><circle cx="266.1" cy="1059.5" r="6.1"/><circle cx="268.1" cy="1068.4" r="6.1"/><circle cx="269.5" cy="1068.4" r="6.1"/><circle cx="269.8" cy="1068.4" r="6.1"/><circle cx="269.8" cy="1068.4" r="6.1"/><circle cx="272.0" cy="1059.0" r="6.1"/><circle cx="272.5" cy="1068.4" r="6.1"/><circle cx="273.2" cy="1068.4" r="6.1"/><circle cx="273.8" cy="1068.4" r="6.1"/><circle cx="274.0" cy="1057.0" r="6.1"/><circle cx="275.8" cy="1068.4" r="6.1"/><circle cx="276.0" cy="1068.4" r="6.1"/><circle cx="276.7" cy="1059.8" r="6.1"/><circle cx="278.2" cy="1058.0" r="6.1"/><circle cx="279.0" cy="1051.9" r="6.1"/><circle cx="279.3" cy="1054.6" r="6.1"/><circle cx="281.3" cy="1058.6" r="6.1"/><circle cx="281.8" cy="1060.0" r="6.1"/><circle cx="282.1" cy="1068.4" r="6.1"/><circle cx="282.2" cy="1068.4" r="6.1"/><circle cx="282.2" cy="1068.4" r="6.1"/><circle cx="282.3" cy="1068.4" r="6.1"/><circle cx="282.5" cy="1053.7" r="6.1"/><circle cx="284.2" cy="1068.4" r="6.1"/><circle cx="284.8" cy="1068.4" r="6.1"/><circle cx="284.9" cy="1068.4" r="6.1"/><circle cx="285.2" cy="1068.4" r="6.1"/><circle cx="285.3" cy="1055.1" r="6.1"/><circle cx="286.1" cy="1059.2" r="6.1"/><circle cx="287.2" cy="1055.8" r="6.1"/><circle cx="288.2" cy="1061.2" r="6.1"/><circle cx="289.2" cy="1068.4" r="6.1"/><circle cx="289.3" cy="1068.4" r="6.1"/><circle cx="290.2" cy="1068.4" r="6.1"/><circle cx="291.0" cy="1058.2" r="6.1"/><circle cx="291.3" cy="1068.4" r="6.1"/><circle cx="291.4" cy="1068.4" r="6.1"/><circle cx="292.0" cy="1057.0" r="6.1"/><circle cx="292.7" cy="1056.7" r="6.1"/><circle cx="293.6" cy="1060.6" r="6.1"/><circle cx="293.8" cy="1068.4" r="6.1"/><circle cx="294.9" cy="1050.8" r="6.1"/><circle cx="295.3" cy="1068.4" r="6.1"/><circle cx="295.3" cy="1054.8" r="6.1"/><circle cx="295.4" cy="1068.4" r="6.1"/><circle cx="295.9" cy="1068.4" r="6.1"/><circle cx="296.5" cy="1053.8" r="6.1"/><circle cx="296.8" cy="1056.2" r="6.1"/><circle cx="297.0" cy="1057.1" r="6.1"/><circle cx="297.1" cy="1056.8" r="6.1"/><circle cx="297.3" cy="1068.4" r="6.1"/><circle cx="297.9" cy="1068.4" r="6.1"/><circle cx="299.7" cy="1054.0" r="6.1"/><circle cx="300.0" cy="1068.4" r="6.1"/><circle cx="300.6" cy="1050.4" r="6.1"/><circle cx="300.9" cy="1058.9" r="6.1"/><circle cx="301.0" cy="1054.2" r="6.1"/><circle cx="301.7" cy="1050.3" r="6.1"/><circle cx="301.8" cy="1051.0" r="6.1"/><circle cx="302.3" cy="1055.6" r="6.1"/><circle cx="303.1" cy="1068.4" r="6.1"/><circle cx="304.3" cy="1055.9" r="6.1"/><circle cx="305.5" cy="1049.6" r="6.1"/><circle cx="307.8" cy="1068.4" r="6.1"/><circle cx="308.8" cy="1057.4" r="6.1"/><circle cx="309.5" cy="1068.4" r="6.1"/><circle cx="310.6" cy="1053.9" r="6.1"/><circle cx="310.6" cy="1054.1" r="6.1"/><circle cx="310.6" cy="1052.1" r="6.1"/><circle cx="310.8" cy="1068.4" r="6.1"/><circle cx="311.7" cy="1068.4" r="6.1"/><circle cx="312.7" cy="1056.7" r="6.1"/><circle cx="315.0" cy="1068.4" r="6.1"/><circle cx="315.5" cy="1051.3" r="6.1"/><circle cx="315.5" cy="1049.9" r="6.1"/><circle cx="315.7" cy="1052.3" r="6.1"/><circle cx="315.8" cy="1051.5" r="6.1"/><circle cx="318.1" cy="1068.4" r="6.1"/><circle cx="318.4" cy="1056.1" r="6.1"/><circle cx="319.2" cy="1052.8" r="6.1"/><circle cx="319.4" cy="1050.0" r="6.1"/><circle cx="319.6" cy="1068.4" r="6.1"/><circle cx="319.6" cy="1068.4" r="6.1"/><circle cx="319.9" cy="1055.5" r="6.1"/><circle cx="321.3" cy="1048.8" r="6.1"/><circle cx="322.6" cy="1068.4" r="6.1"/><circle cx="323.3" cy="1068.4" r="6.1"/><circle cx="323.3" cy="1054.4" r="6.1"/><circle cx="324.2" cy="1052.1" r="6.1"/><circle cx="324.2" cy="1054.1" r="6.1"/><circle cx="324.7" cy="1053.9" r="6.1"/><circle cx="325.7" cy="1047.1" r="6.1"/><circle cx="325.8" cy="1068.4" r="6.1"/><circle cx="327.6" cy="1068.4" r="6.1"/><circle cx="327.8" cy="1068.4" r="6.1"/><circle cx="327.9" cy="1055.6" r="6.1"/><circle cx="328.1" cy="1044.9" r="6.1"/><circle cx="328.1" cy="1068.4" r="6.1"/><circle cx="328.2" cy="1068.4" r="6.1"/><circle cx="328.6" cy="1068.4" r="6.1"/><circle cx="328.7" cy="1047.4" r="6.1"/><circle cx="328.7" cy="1050.6" r="6.1"/><circle cx="330.7" cy="1052.4" r="6.1"/><circle cx="330.8" cy="1068.4" r="6.1"/><circle cx="332.9" cy="1068.4" r="6.1"/><circle cx="332.9" cy="1055.3" r="6.1"/><circle cx="333.4" cy="1050.3" r="6.1"/><circle cx="333.9" cy="1068.4" r="6.1"/><circle cx="334.9" cy="1050.6" r="6.1"/><circle cx="335.1" cy="1068.4" r="6.1"/><circle cx="335.2" cy="1068.4" r="6.1"/><circle cx="335.3" cy="1068.4" r="6.1"/><circle cx="335.5" cy="1055.0" r="6.1"/><circle cx="336.1" cy="1044.8" r="6.1"/><circle cx="336.6" cy="1046.6" r="6.1"/><circle cx="338.5" cy="1047.2" r="6.1"/><circle cx="338.5" cy="1048.4" r="6.1"/><circle cx="339.0" cy="1041.0" r="6.1"/><circle cx="341.2" cy="1046.7" r="6.1"/><circle cx="341.9" cy="1053.1" r="6.1"/><circle cx="342.9" cy="1053.2" r="6.1"/><circle cx="347.2" cy="1047.0" r="6.1"/><circle cx="348.0" cy="1046.5" r="6.1"/><circle cx="348.7" cy="1050.2" r="6.1"/><circle cx="349.1" cy="1055.8" r="6.1"/><circle cx="349.2" cy="1045.3" r="6.1"/><circle cx="353.1" cy="1052.2" r="6.1"/><circle cx="353.3" cy="1046.2" r="6.1"/><circle cx="354.0" cy="1050.0" r="6.1"/><circle cx="354.5" cy="1068.4" r="6.1"/><circle cx="356.6" cy="1047.3" r="6.1"/><circle cx="358.0" cy="1046.3" r="6.1"/><circle cx="358.4" cy="1049.6" r="6.1"/><circle cx="360.0" cy="1043.4" r="6.1"/><circle cx="360.9" cy="1050.9" r="6.1"/><circle cx="361.4" cy="1040.2" r="6.1"/><circle cx="364.1" cy="1050.4" r="6.1"/><circle cx="364.7" cy="1041.1" r="6.1"/><circle cx="364.7" cy="1048.1" r="6.1"/><circle cx="365.2" cy="1047.3" r="6.1"/><circle cx="365.4" cy="1042.3" r="6.1"/><circle cx="366.5" cy="1042.8" r="6.1"/><circle cx="366.7" cy="1043.1" r="6.1"/><circle cx="367.5" cy="1039.0" r="6.1"/><circle cx="369.4" cy="1068.4" r="6.1"/><circle cx="370.0" cy="1048.2" r="6.1"/><circle cx="370.9" cy="1047.8" r="6.1"/><circle cx="371.7" cy="1038.0" r="6.1"/><circle cx="373.4" cy="1044.8" r="6.1"/><circle cx="374.6" cy="1043.7" r="6.1"/><circle cx="377.9" cy="1035.4" r="6.1"/><circle cx="379.2" cy="1047.8" r="6.1"/><circle cx="380.3" cy="1037.8" r="6.1"/><circle cx="380.3" cy="1068.4" r="6.1"/><circle cx="381.3" cy="1042.6" r="6.1"/><circle cx="382.5" cy="1047.0" r="6.1"/><circle cx="383.4" cy="1051.2" r="6.1"/><circle cx="386.5" cy="1037.2" r="6.1"/><circle cx="387.4" cy="1040.1" r="6.1"/><circle cx="388.0" cy="1043.1" r="6.1"/><circle cx="388.8" cy="1039.5" r="6.1"/><circle cx="388.8" cy="1068.4" r="6.1"/><circle cx="389.1" cy="1040.4" r="6.1"/><circle cx="394.7" cy="1037.5" r="6.1"/><circle cx="395.1" cy="1044.2" r="6.1"/><circle cx="395.8" cy="1030.1" r="6.1"/><circle cx="397.4" cy="1044.4" r="6.1"/><circle cx="397.6" cy="1041.4" r="6.1"/><circle cx="397.6" cy="1044.0" r="6.1"/><circle cx="398.1" cy="1043.1" r="6.1"/><circle cx="400.5" cy="1032.5" r="6.1"/><circle cx="406.7" cy="1033.5" r="6.1"/><circle cx="406.8" cy="1048.8" r="6.1"/><circle cx="407.6" cy="1033.2" r="6.1"/><circle cx="408.1" cy="1033.7" r="6.1"/><circle cx="409.2" cy="1031.4" r="6.1"/><circle cx="409.9" cy="1068.4" r="6.1"/><circle cx="410.8" cy="1036.2" r="6.1"/><circle cx="413.0" cy="1044.2" r="6.1"/><circle cx="413.9" cy="1031.4" r="6.1"/><circle cx="415.3" cy="1032.9" r="6.1"/><circle cx="417.6" cy="1035.6" r="6.1"/><circle cx="418.7" cy="1030.4" r="6.1"/><circle cx="423.4" cy="1027.2" r="6.1"/><circle cx="425.1" cy="1038.8" r="6.1"/><circle cx="427.6" cy="1030.3" r="6.1"/><circle cx="429.8" cy="1031.9" r="6.1"/><circle cx="431.5" cy="1027.0" r="6.1"/><circle cx="432.8" cy="1028.6" r="6.1"/><circle cx="433.2" cy="1020.8" r="6.1"/><circle cx="433.6" cy="1031.0" r="6.1"/><circle cx="434.6" cy="1035.7" r="6.1"/><circle cx="436.0" cy="1029.3" r="6.1"/><circle cx="436.4" cy="1068.4" r="6.1"/><circle cx="437.0" cy="1027.4" r="6.1"/><circle cx="437.9" cy="1027.9" r="6.1"/><circle cx="438.3" cy="1031.1" r="6.1"/><circle cx="438.4" cy="1028.3" r="6.1"/><circle cx="439.1" cy="1024.1" r="6.1"/><circle cx="440.5" cy="1028.0" r="6.1"/><circle cx="442.5" cy="1026.1" r="6.1"/><circle cx="444.8" cy="1033.4" r="6.1"/><circle cx="444.9" cy="1033.7" r="6.1"/><circle cx="445.7" cy="1030.7" r="6.1"/><circle cx="447.3" cy="1020.8" r="6.1"/><circle cx="451.2" cy="1024.0" r="6.1"/><circle cx="453.5" cy="1068.4" r="6.1"/><circle cx="455.2" cy="1021.5" r="6.1"/><circle cx="457.1" cy="1016.2" r="6.1"/><circle cx="457.6" cy="1023.4" r="6.1"/><circle cx="458.2" cy="1032.5" r="6.1"/><circle cx="460.4" cy="1026.5" r="6.1"/><circle cx="461.2" cy="1015.1" r="6.1"/><circle cx="461.3" cy="1022.1" r="6.1"/><circle cx="462.5" cy="1028.1" r="6.1"/><circle cx="463.3" cy="1026.6" r="6.1"/><circle cx="465.4" cy="1028.3" r="6.1"/><circle cx="466.2" cy="1068.4" r="6.1"/><circle cx="468.3" cy="1014.5" r="6.1"/><circle cx="469.1" cy="1026.5" r="6.1"/><circle cx="470.6" cy="1031.7" r="6.1"/><circle cx="472.2" cy="1012.2" r="6.1"/><circle cx="472.4" cy="1019.8" r="6.1"/><circle cx="472.5" cy="1017.1" r="6.1"/><circle cx="475.6" cy="1068.4" r="6.1"/><circle cx="476.6" cy="1018.0" r="6.1"/><circle cx="476.8" cy="1024.0" r="6.1"/><circle cx="476.9" cy="1020.1" r="6.1"/><circle cx="477.4" cy="1026.8" r="6.1"/><circle cx="479.6" cy="1012.3" r="6.1"/><circle cx="480.9" cy="1009.7" r="6.1"/><circle cx="482.3" cy="1016.1" r="6.1"/><circle cx="482.9" cy="1032.2" r="6.1"/><circle cx="484.3" cy="1018.8" r="6.1"/><circle cx="484.5" cy="1068.4" r="6.1"/><circle cx="485.6" cy="1012.1" r="6.1"/><circle cx="487.4" cy="1011.7" r="6.1"/><circle cx="488.1" cy="1013.9" r="6.1"/><circle cx="488.8" cy="1022.6" r="6.1"/><circle cx="490.3" cy="1017.0" r="6.1"/><circle cx="491.7" cy="1021.6" r="6.1"/><circle cx="491.8" cy="1018.0" r="6.1"/><circle cx="492.3" cy="1013.0" r="6.1"/><circle cx="492.4" cy="1022.5" r="6.1"/><circle cx="493.2" cy="1026.0" r="6.1"/><circle cx="493.9" cy="1009.0" r="6.1"/><circle cx="494.9" cy="1005.7" r="6.1"/><circle cx="495.1" cy="1005.7" r="6.1"/><circle cx="498.4" cy="1068.4" r="6.1"/><circle cx="498.8" cy="1019.1" r="6.1"/><circle cx="500.7" cy="1019.6" r="6.1"/><circle cx="500.7" cy="1020.9" r="6.1"/><circle cx="501.5" cy="1018.2" r="6.1"/><circle cx="502.2" cy="1013.2" r="6.1"/><circle cx="503.2" cy="1011.5" r="6.1"/><circle cx="503.6" cy="1003.1" r="6.1"/><circle cx="506.2" cy="1016.8" r="6.1"/><circle cx="508.2" cy="1005.7" r="6.1"/><circle cx="508.7" cy="1007.5" r="6.1"/><circle cx="509.4" cy="1014.1" r="6.1"/><circle cx="509.9" cy="1068.4" r="6.1"/><circle cx="510.9" cy="1004.9" r="6.1"/><circle cx="511.8" cy="1000.8" r="6.1"/><circle cx="513.5" cy="1010.8" r="6.1"/><circle cx="513.8" cy="1007.5" r="6.1"/><circle cx="513.9" cy="1002.6" r="6.1"/><circle cx="518.2" cy="1012.7" r="6.1"/><circle cx="518.7" cy="1014.4" r="6.1"/><circle cx="521.3" cy="1068.4" r="6.1"/><circle cx="521.9" cy="1004.9" r="6.1"/><circle cx="522.2" cy="998.3" r="6.1"/><circle cx="524.4" cy="993.8" r="6.1"/><circle cx="524.9" cy="1006.6" r="6.1"/><circle cx="526.2" cy="1002.6" r="6.1"/><circle cx="527.6" cy="999.5" r="6.1"/><circle cx="528.0" cy="1003.5" r="6.1"/><circle cx="528.6" cy="1014.5" r="6.1"/><circle cx="528.8" cy="997.6" r="6.1"/><circle cx="531.5" cy="1007.0" r="6.1"/><circle cx="532.2" cy="1006.1" r="6.1"/><circle cx="534.5" cy="1005.6" r="6.1"/><circle cx="536.4" cy="1007.4" r="6.1"/><circle cx="537.3" cy="999.4" r="6.1"/><circle cx="540.1" cy="995.3" r="6.1"/><circle cx="541.1" cy="996.9" r="6.1"/><circle cx="544.3" cy="998.6" r="6.1"/><circle cx="544.5" cy="990.7" r="6.1"/><circle cx="547.9" cy="1002.0" r="6.1"/><circle cx="548.0" cy="1004.8" r="6.1"/><circle cx="548.4" cy="996.9" r="6.1"/><circle cx="549.2" cy="1001.2" r="6.1"/><circle cx="549.2" cy="998.7" r="6.1"/><circle cx="549.3" cy="996.2" r="6.1"/><circle cx="549.8" cy="1004.4" r="6.1"/><circle cx="550.4" cy="1068.4" r="6.1"/><circle cx="550.9" cy="991.0" r="6.1"/><circle cx="551.4" cy="983.4" r="6.1"/><circle cx="552.5" cy="1001.7" r="6.1"/><circle cx="553.2" cy="995.9" r="6.1"/><circle cx="553.2" cy="998.3" r="6.1"/><circle cx="555.3" cy="988.7" r="6.1"/><circle cx="555.5" cy="994.9" r="6.1"/><circle cx="556.9" cy="993.9" r="6.1"/><circle cx="557.3" cy="989.6" r="6.1"/><circle cx="557.9" cy="995.6" r="6.1"/><circle cx="559.8" cy="990.0" r="6.1"/><circle cx="560.0" cy="997.4" r="6.1"/><circle cx="560.4" cy="986.4" r="6.1"/><circle cx="561.8" cy="1068.4" r="6.1"/><circle cx="562.4" cy="993.6" r="6.1"/><circle cx="562.9" cy="989.1" r="6.1"/><circle cx="566.6" cy="994.8" r="6.1"/><circle cx="568.5" cy="982.9" r="6.1"/><circle cx="568.5" cy="1012.5" r="6.1"/><circle cx="571.0" cy="992.3" r="6.1"/><circle cx="571.4" cy="990.1" r="6.1"/><circle cx="572.2" cy="1068.4" r="6.1"/><circle cx="575.3" cy="974.6" r="6.1"/><circle cx="577.2" cy="991.2" r="6.1"/><circle cx="578.4" cy="998.9" r="6.1"/><circle cx="578.9" cy="1068.4" r="6.1"/><circle cx="578.9" cy="987.0" r="6.1"/><circle cx="581.5" cy="986.4" r="6.1"/><circle cx="581.8" cy="992.6" r="6.1"/><circle cx="581.9" cy="988.8" r="6.1"/><circle cx="582.7" cy="985.2" r="6.1"/><circle cx="583.7" cy="995.5" r="6.1"/><circle cx="584.2" cy="997.1" r="6.1"/><circle cx="584.7" cy="983.4" r="6.1"/><circle cx="586.8" cy="976.7" r="6.1"/><circle cx="591.9" cy="1000.0" r="6.1"/><circle cx="593.2" cy="987.8" r="6.1"/><circle cx="598.8" cy="966.3" r="6.1"/><circle cx="599.4" cy="980.2" r="6.1"/><circle cx="602.2" cy="984.3" r="6.1"/><circle cx="602.3" cy="989.9" r="6.1"/><circle cx="602.3" cy="1005.2" r="6.1"/><circle cx="602.6" cy="982.0" r="6.1"/><circle cx="603.1" cy="973.1" r="6.1"/><circle cx="603.4" cy="1068.4" r="6.1"/><circle cx="605.1" cy="979.4" r="6.1"/><circle cx="606.6" cy="982.5" r="6.1"/><circle cx="607.1" cy="984.7" r="6.1"/><circle cx="607.5" cy="981.6" r="6.1"/><circle cx="608.2" cy="975.8" r="6.1"/><circle cx="608.5" cy="971.2" r="6.1"/><circle cx="608.8" cy="978.9" r="6.1"/><circle cx="608.9" cy="980.3" r="6.1"/><circle cx="609.1" cy="976.9" r="6.1"/><circle cx="609.6" cy="973.0" r="6.1"/><circle cx="612.7" cy="1068.4" r="6.1"/><circle cx="614.8" cy="962.6" r="6.1"/><circle cx="615.1" cy="976.3" r="6.1"/><circle cx="615.2" cy="972.6" r="6.1"/><circle cx="617.6" cy="973.7" r="6.1"/><circle cx="617.9" cy="984.2" r="6.1"/><circle cx="619.0" cy="1007.9" r="6.1"/><circle cx="620.5" cy="974.4" r="6.1"/><circle cx="620.5" cy="977.8" r="6.1"/><circle cx="621.8" cy="969.8" r="6.1"/><circle cx="621.9" cy="973.5" r="6.1"/><circle cx="623.4" cy="974.4" r="6.1"/><circle cx="628.4" cy="972.1" r="6.1"/><circle cx="629.4" cy="988.6" r="6.1"/><circle cx="629.7" cy="965.3" r="6.1"/><circle cx="632.5" cy="971.1" r="6.1"/><circle cx="632.5" cy="955.3" r="6.1"/><circle cx="633.6" cy="974.9" r="6.1"/><circle cx="633.7" cy="969.0" r="6.1"/><circle cx="634.0" cy="963.9" r="6.1"/><circle cx="635.0" cy="972.5" r="6.1"/><circle cx="635.7" cy="964.8" r="6.1"/><circle cx="637.4" cy="965.4" r="6.1"/><circle cx="637.6" cy="977.6" r="6.1"/><circle cx="639.6" cy="974.8" r="6.1"/><circle cx="639.8" cy="975.4" r="6.1"/><circle cx="642.9" cy="975.6" r="6.1"/><circle cx="643.0" cy="976.4" r="6.1"/><circle cx="644.9" cy="977.1" r="6.1"/><circle cx="644.9" cy="981.3" r="6.1"/><circle cx="648.2" cy="956.1" r="6.1"/><circle cx="648.2" cy="972.0" r="6.1"/><circle cx="651.8" cy="960.9" r="6.1"/><circle cx="653.3" cy="964.2" r="6.1"/><circle cx="653.3" cy="960.7" r="6.1"/><circle cx="654.2" cy="973.8" r="6.1"/><circle cx="654.4" cy="956.4" r="6.1"/><circle cx="655.3" cy="969.0" r="6.1"/><circle cx="657.4" cy="973.0" r="6.1"/><circle cx="657.6" cy="951.0" r="6.1"/><circle cx="658.0" cy="961.6" r="6.1"/><circle cx="659.7" cy="970.8" r="6.1"/><circle cx="661.2" cy="959.9" r="6.1"/><circle cx="661.8" cy="949.4" r="6.1"/><circle cx="664.6" cy="961.0" r="6.1"/><circle cx="665.4" cy="963.2" r="6.1"/><circle cx="667.8" cy="980.3" r="6.1"/><circle cx="668.8" cy="947.4" r="6.1"/><circle cx="669.9" cy="948.1" r="6.1"/><circle cx="670.2" cy="958.3" r="6.1"/><circle cx="670.9" cy="946.1" r="6.1"/><circle cx="672.2" cy="963.7" r="6.1"/><circle cx="672.7" cy="961.2" r="6.1"/><circle cx="673.0" cy="971.3" r="6.1"/><circle cx="673.1" cy="958.5" r="6.1"/><circle cx="675.1" cy="959.1" r="6.1"/><circle cx="675.7" cy="961.2" r="6.1"/><circle cx="677.1" cy="951.8" r="6.1"/><circle cx="679.3" cy="964.8" r="6.1"/><circle cx="681.0" cy="983.4" r="6.1"/><circle cx="681.1" cy="954.7" r="6.1"/><circle cx="682.3" cy="947.0" r="6.1"/><circle cx="683.2" cy="951.2" r="6.1"/><circle cx="684.2" cy="973.0" r="6.1"/><circle cx="684.3" cy="950.6" r="6.1"/><circle cx="684.9" cy="940.4" r="6.1"/><circle cx="686.5" cy="950.8" r="6.1"/><circle cx="686.9" cy="949.4" r="6.1"/><circle cx="688.2" cy="948.8" r="6.1"/><circle cx="688.3" cy="1068.4" r="6.1"/><circle cx="688.5" cy="948.8" r="6.1"/><circle cx="689.0" cy="947.6" r="6.1"/><circle cx="691.8" cy="957.4" r="6.1"/><circle cx="693.2" cy="944.2" r="6.1"/><circle cx="694.4" cy="953.1" r="6.1"/><circle cx="694.5" cy="939.6" r="6.1"/><circle cx="696.0" cy="946.8" r="6.1"/><circle cx="698.7" cy="937.3" r="6.1"/><circle cx="699.0" cy="939.7" r="6.1"/><circle cx="700.8" cy="970.9" r="6.1"/><circle cx="701.1" cy="933.8" r="6.1"/><circle cx="704.2" cy="946.4" r="6.1"/><circle cx="704.6" cy="947.7" r="6.1"/><circle cx="706.0" cy="928.6" r="6.1"/><circle cx="707.2" cy="954.4" r="6.1"/><circle cx="707.3" cy="938.0" r="6.1"/><circle cx="707.5" cy="947.0" r="6.1"/><circle cx="707.5" cy="951.5" r="6.1"/><circle cx="707.8" cy="932.5" r="6.1"/><circle cx="708.0" cy="954.0" r="6.1"/><circle cx="711.2" cy="1068.4" r="6.1"/><circle cx="711.5" cy="947.5" r="6.1"/><circle cx="711.6" cy="934.7" r="6.1"/><circle cx="713.2" cy="963.6" r="6.1"/><circle cx="715.9" cy="946.7" r="6.1"/><circle cx="717.4" cy="924.4" r="6.1"/><circle cx="718.0" cy="931.3" r="6.1"/><circle cx="719.6" cy="938.4" r="6.1"/><circle cx="720.4" cy="926.4" r="6.1"/><circle cx="721.3" cy="930.9" r="6.1"/><circle cx="722.0" cy="944.7" r="6.1"/><circle cx="722.6" cy="935.9" r="6.1"/><circle cx="722.6" cy="960.5" r="6.1"/><circle cx="723.5" cy="934.7" r="6.1"/><circle cx="723.7" cy="945.4" r="6.1"/><circle cx="724.2" cy="947.8" r="6.1"/><circle cx="725.6" cy="940.9" r="6.1"/><circle cx="726.1" cy="1068.4" r="6.1"/><circle cx="727.8" cy="928.6" r="6.1"/><circle cx="728.1" cy="922.9" r="6.1"/><circle cx="729.2" cy="938.3" r="6.1"/><circle cx="731.2" cy="938.4" r="6.1"/><circle cx="731.7" cy="937.5" r="6.1"/><circle cx="731.8" cy="929.7" r="6.1"/><circle cx="732.1" cy="928.4" r="6.1"/><circle cx="733.6" cy="934.4" r="6.1"/><circle cx="735.1" cy="910.9" r="6.1"/><circle cx="736.9" cy="934.9" r="6.1"/><circle cx="738.9" cy="933.0" r="6.1"/><circle cx="739.8" cy="941.6" r="6.1"/><circle cx="740.0" cy="926.5" r="6.1"/><circle cx="740.3" cy="923.4" r="6.1"/><circle cx="742.0" cy="926.4" r="6.1"/><circle cx="742.3" cy="954.3" r="6.1"/><circle cx="743.4" cy="922.0" r="6.1"/><circle cx="743.6" cy="937.2" r="6.1"/><circle cx="744.1" cy="939.4" r="6.1"/><circle cx="744.1" cy="925.2" r="6.1"/><circle cx="745.1" cy="939.3" r="6.1"/><circle cx="745.1" cy="915.3" r="6.1"/><circle cx="745.3" cy="939.4" r="6.1"/><circle cx="746.8" cy="935.7" r="6.1"/><circle cx="747.5" cy="1012.5" r="6.1"/><circle cx="747.7" cy="929.3" r="6.1"/><circle cx="750.6" cy="920.3" r="6.1"/><circle cx="751.1" cy="1068.4" r="6.1"/><circle cx="751.7" cy="936.8" r="6.1"/><circle cx="752.4" cy="925.0" r="6.1"/><circle cx="755.3" cy="922.3" r="6.1"/><circle cx="755.8" cy="949.1" r="6.1"/><circle cx="756.1" cy="934.3" r="6.1"/><circle cx="756.5" cy="927.4" r="6.1"/><circle cx="756.9" cy="906.8" r="6.1"/><circle cx="757.6" cy="919.1" r="6.1"/><circle cx="760.3" cy="928.2" r="6.1"/><circle cx="760.5" cy="916.6" r="6.1"/><circle cx="762.0" cy="932.5" r="6.1"/><circle cx="763.2" cy="932.0" r="6.1"/><circle cx="763.3" cy="924.6" r="6.1"/><circle cx="765.2" cy="905.7" r="6.1"/><circle cx="767.8" cy="918.0" r="6.1"/><circle cx="769.0" cy="928.7" r="6.1"/><circle cx="770.4" cy="911.9" r="6.1"/><circle cx="770.9" cy="928.8" r="6.1"/><circle cx="771.4" cy="893.2" r="6.1"/><circle cx="773.5" cy="940.8" r="6.1"/><circle cx="776.1" cy="916.9" r="6.1"/><circle cx="779.1" cy="914.9" r="6.1"/><circle cx="779.7" cy="924.7" r="6.1"/><circle cx="779.7" cy="934.8" r="6.1"/><circle cx="780.5" cy="924.8" r="6.1"/><circle cx="781.9" cy="911.7" r="6.1"/><circle cx="782.3" cy="914.8" r="6.1"/><circle cx="783.9" cy="903.6" r="6.1"/><circle cx="786.4" cy="916.1" r="6.1"/><circle cx="789.1" cy="964.3" r="6.1"/><circle cx="790.1" cy="905.7" r="6.1"/><circle cx="790.4" cy="915.3" r="6.1"/><circle cx="791.1" cy="907.6" r="6.1"/><circle cx="792.5" cy="898.1" r="6.1"/><circle cx="792.6" cy="900.7" r="6.1"/><circle cx="792.8" cy="913.3" r="6.1"/><circle cx="793.2" cy="902.4" r="6.1"/><circle cx="793.2" cy="908.0" r="6.1"/><circle cx="793.6" cy="906.8" r="6.1"/><circle cx="794.8" cy="910.5" r="6.1"/><circle cx="795.3" cy="924.4" r="6.1"/><circle cx="795.6" cy="894.3" r="6.1"/><circle cx="799.9" cy="907.1" r="6.1"/><circle cx="803.6" cy="1068.4" r="6.1"/><circle cx="804.3" cy="911.5" r="6.1"/><circle cx="807.4" cy="887.3" r="6.1"/><circle cx="808.5" cy="886.9" r="6.1"/><circle cx="808.8" cy="1068.4" r="6.1"/><circle cx="808.8" cy="900.5" r="6.1"/><circle cx="810.6" cy="911.7" r="6.1"/><circle cx="812.1" cy="885.8" r="6.1"/><circle cx="812.4" cy="910.3" r="6.1"/><circle cx="812.7" cy="907.2" r="6.1"/><circle cx="812.9" cy="897.5" r="6.1"/><circle cx="813.1" cy="902.5" r="6.1"/><circle cx="814.3" cy="900.9" r="6.1"/><circle cx="815.1" cy="886.0" r="6.1"/><circle cx="817.1" cy="908.8" r="6.1"/><circle cx="817.2" cy="904.0" r="6.1"/><circle cx="818.2" cy="871.4" r="6.1"/><circle cx="819.2" cy="920.3" r="6.1"/><circle cx="819.4" cy="907.6" r="6.1"/><circle cx="820.2" cy="896.3" r="6.1"/><circle cx="820.7" cy="904.3" r="6.1"/><circle cx="820.9" cy="881.0" r="6.1"/><circle cx="821.4" cy="902.7" r="6.1"/><circle cx="826.5" cy="911.9" r="6.1"/><circle cx="826.8" cy="891.9" r="6.1"/><circle cx="828.8" cy="877.2" r="6.1"/><circle cx="829.6" cy="876.6" r="6.1"/><circle cx="829.6" cy="937.9" r="6.1"/><circle cx="829.8" cy="894.1" r="6.1"/><circle cx="832.3" cy="883.4" r="6.1"/><circle cx="832.4" cy="883.6" r="6.1"/><circle cx="834.8" cy="869.4" r="6.1"/><circle cx="835.4" cy="898.7" r="6.1"/><circle cx="835.5" cy="890.8" r="6.1"/><circle cx="835.8" cy="885.7" r="6.1"/><circle cx="835.8" cy="917.1" r="6.1"/><circle cx="839.9" cy="898.3" r="6.1"/><circle cx="840.0" cy="864.2" r="6.1"/><circle cx="841.9" cy="892.5" r="6.1"/><circle cx="843.1" cy="900.5" r="6.1"/><circle cx="843.4" cy="884.9" r="6.1"/><circle cx="844.2" cy="875.6" r="6.1"/><circle cx="844.3" cy="891.1" r="6.1"/><circle cx="844.7" cy="886.0" r="6.1"/><circle cx="846.7" cy="874.1" r="6.1"/><circle cx="846.9" cy="882.5" r="6.1"/><circle cx="847.2" cy="890.3" r="6.1"/><circle cx="848.3" cy="936.9" r="6.1"/><circle cx="850.1" cy="872.1" r="6.1"/><circle cx="852.3" cy="892.3" r="6.1"/><circle cx="852.5" cy="870.4" r="6.1"/><circle cx="854.3" cy="882.5" r="6.1"/><circle cx="854.5" cy="857.9" r="6.1"/><circle cx="856.5" cy="869.1" r="6.1"/><circle cx="857.1" cy="890.3" r="6.1"/><circle cx="857.2" cy="881.8" r="6.1"/><circle cx="858.7" cy="900.5" r="6.1"/><circle cx="862.7" cy="875.1" r="6.1"/><circle cx="863.7" cy="865.3" r="6.1"/><circle cx="864.9" cy="848.6" r="6.1"/><circle cx="865.8" cy="870.8" r="6.1"/><circle cx="867.0" cy="860.0" r="6.1"/><circle cx="870.7" cy="872.0" r="6.1"/><circle cx="871.2" cy="899.5" r="6.1"/><circle cx="872.6" cy="858.7" r="6.1"/><circle cx="875.9" cy="863.0" r="6.1"/><circle cx="876.4" cy="888.1" r="6.1"/><circle cx="878.4" cy="844.4" r="6.1"/><circle cx="878.7" cy="862.7" r="6.1"/><circle cx="880.3" cy="855.8" r="6.1"/><circle cx="880.9" cy="860.8" r="6.1"/><circle cx="887.8" cy="841.3" r="6.1"/><circle cx="888.9" cy="875.2" r="6.1"/><circle cx="891.9" cy="880.8" r="6.1"/><circle cx="893.8" cy="859.9" r="6.1"/><circle cx="896.8" cy="853.8" r="6.1"/><circle cx="897.5" cy="847.1" r="6.1"/><circle cx="898.1" cy="844.6" r="6.1"/><circle cx="899.4" cy="856.7" r="6.1"/><circle cx="900.0" cy="868.1" r="6.1"/><circle cx="900.3" cy="862.3" r="6.1"/><circle cx="902.0" cy="851.0" r="6.1"/><circle cx="903.1" cy="851.4" r="6.1"/><circle cx="903.5" cy="861.3" r="6.1"/><circle cx="904.1" cy="865.3" r="6.1"/><circle cx="906.2" cy="897.1" r="6.1"/><circle cx="908.3" cy="831.7" r="6.1"/><circle cx="909.4" cy="875.3" r="6.1"/><circle cx="910.8" cy="847.4" r="6.1"/><circle cx="912.0" cy="862.4" r="6.1"/><circle cx="914.5" cy="847.3" r="6.1"/><circle cx="915.6" cy="823.4" r="6.1"/><circle cx="915.8" cy="860.8" r="6.1"/><circle cx="917.8" cy="841.5" r="6.1"/><circle cx="919.7" cy="897.1" r="6.1"/><circle cx="920.0" cy="837.9" r="6.1"/><circle cx="920.8" cy="830.6" r="6.1"/><circle cx="920.9" cy="843.6" r="6.1"/><circle cx="923.1" cy="846.0" r="6.1"/><circle cx="924.9" cy="874.3" r="6.1"/><circle cx="925.2" cy="844.5" r="6.1"/><circle cx="925.6" cy="833.3" r="6.1"/><circle cx="926.0" cy="839.2" r="6.1"/><circle cx="928.1" cy="849.9" r="6.1"/><circle cx="928.8" cy="839.5" r="6.1"/><circle cx="929.2" cy="836.4" r="6.1"/><circle cx="931.2" cy="830.6" r="6.1"/><circle cx="932.5" cy="837.9" r="6.1"/><circle cx="934.7" cy="834.0" r="6.1"/><circle cx="935.9" cy="822.8" r="6.1"/><circle cx="936.6" cy="829.1" r="6.1"/><circle cx="937.4" cy="820.3" r="6.1"/><circle cx="941.0" cy="838.5" r="6.1"/><circle cx="944.7" cy="811.9" r="6.1"/><circle cx="945.9" cy="846.0" r="6.1"/><circle cx="947.3" cy="816.6" r="6.1"/><circle cx="947.3" cy="844.9" r="6.1"/><circle cx="950.2" cy="839.6" r="6.1"/><circle cx="950.4" cy="833.8" r="6.1"/><circle cx="954.8" cy="835.7" r="6.1"/><circle cx="955.1" cy="794.8" r="6.1"/><circle cx="955.1" cy="832.3" r="6.1"/><circle cx="955.3" cy="815.9" r="6.1"/><circle cx="955.3" cy="827.7" r="6.1"/><circle cx="960.3" cy="804.7" r="6.1"/><circle cx="960.5" cy="812.4" r="6.1"/><circle cx="961.6" cy="828.7" r="6.1"/><circle cx="961.9" cy="809.6" r="6.1"/><circle cx="962.3" cy="808.4" r="6.1"/><circle cx="962.3" cy="820.3" r="6.1"/><circle cx="963.5" cy="829.3" r="6.1"/><circle cx="965.1" cy="817.7" r="6.1"/><circle cx="966.1" cy="887.2" r="6.1"/><circle cx="966.3" cy="820.5" r="6.1"/><circle cx="966.3" cy="806.1" r="6.1"/><circle cx="966.5" cy="849.4" r="6.1"/><circle cx="968.6" cy="797.9" r="6.1"/><circle cx="969.2" cy="818.1" r="6.1"/><circle cx="970.6" cy="837.9" r="6.1"/><circle cx="973.0" cy="810.6" r="6.1"/><circle cx="973.8" cy="805.7" r="6.1"/><circle cx="974.4" cy="805.2" r="6.1"/><circle cx="975.8" cy="849.4" r="6.1"/><circle cx="978.4" cy="819.2" r="6.1"/><circle cx="980.0" cy="813.0" r="6.1"/><circle cx="982.7" cy="805.0" r="6.1"/><circle cx="984.0" cy="825.3" r="6.1"/><circle cx="984.2" cy="811.5" r="6.1"/><circle cx="985.0" cy="805.3" r="6.1"/><circle cx="986.2" cy="782.3" r="6.1"/><circle cx="987.3" cy="889.9" r="6.1"/><circle cx="987.4" cy="823.4" r="6.1"/><circle cx="988.6" cy="807.5" r="6.1"/><circle cx="991.4" cy="834.8" r="6.1"/><circle cx="991.7" cy="796.8" r="6.1"/><circle cx="992.2" cy="814.4" r="6.1"/><circle cx="993.0" cy="791.1" r="6.1"/><circle cx="994.5" cy="812.3" r="6.1"/><circle cx="994.5" cy="798.4" r="6.1"/><circle cx="994.7" cy="790.2" r="6.1"/><circle cx="994.8" cy="809.3" r="6.1"/><circle cx="995.6" cy="881.6" r="6.1"/><circle cx="997.1" cy="794.2" r="6.1"/><circle cx="999.8" cy="808.2" r="6.1"/><circle cx="1003.2" cy="806.1" r="6.1"/><circle cx="1003.9" cy="789.6" r="6.1"/><circle cx="1004.7" cy="800.0" r="6.1"/><circle cx="1006.0" cy="878.0" r="6.1"/><circle cx="1006.1" cy="800.1" r="6.1"/><circle cx="1006.6" cy="801.8" r="6.1"/><circle cx="1006.7" cy="800.9" r="6.1"/><circle cx="1007.0" cy="801.0" r="6.1"/><circle cx="1007.4" cy="791.5" r="6.1"/><circle cx="1009.1" cy="824.4" r="6.1"/><circle cx="1009.4" cy="796.9" r="6.1"/><circle cx="1010.8" cy="794.7" r="6.1"/><circle cx="1011.2" cy="788.1" r="6.1"/><circle cx="1011.4" cy="783.4" r="6.1"/><circle cx="1012.5" cy="809.3" r="6.1"/><circle cx="1012.9" cy="801.9" r="6.1"/><circle cx="1013.6" cy="808.7" r="6.1"/><circle cx="1016.4" cy="790.6" r="6.1"/><circle cx="1016.7" cy="782.2" r="6.1"/><circle cx="1016.8" cy="789.6" r="6.1"/><circle cx="1017.4" cy="830.6" r="6.1"/><circle cx="1018.4" cy="775.1" r="6.1"/><circle cx="1019.5" cy="850.4" r="6.1"/><circle cx="1019.5" cy="797.2" r="6.1"/><circle cx="1020.1" cy="799.3" r="6.1"/><circle cx="1020.5" cy="777.3" r="6.1"/><circle cx="1021.0" cy="804.5" r="6.1"/><circle cx="1021.9" cy="787.3" r="6.1"/><circle cx="1023.2" cy="793.9" r="6.1"/><circle cx="1024.7" cy="809.9" r="6.1"/><circle cx="1025.0" cy="781.1" r="6.1"/><circle cx="1025.1" cy="794.9" r="6.1"/><circle cx="1025.7" cy="782.0" r="6.1"/><circle cx="1025.7" cy="844.2" r="6.1"/><circle cx="1026.1" cy="787.2" r="6.1"/><circle cx="1026.6" cy="786.5" r="6.1"/><circle cx="1027.8" cy="787.5" r="6.1"/><circle cx="1028.7" cy="789.5" r="6.1"/><circle cx="1028.8" cy="750.1" r="6.1"/><circle cx="1029.0" cy="799.8" r="6.1"/><circle cx="1029.1" cy="778.3" r="6.1"/><circle cx="1029.5" cy="782.9" r="6.1"/><circle cx="1031.1" cy="791.8" r="6.1"/><circle cx="1031.2" cy="798.5" r="6.1"/><circle cx="1031.9" cy="783.5" r="6.1"/><circle cx="1032.7" cy="778.5" r="6.1"/><circle cx="1034.0" cy="784.8" r="6.1"/><circle cx="1034.0" cy="916.3" r="6.1"/><circle cx="1035.1" cy="768.8" r="6.1"/><circle cx="1036.6" cy="767.0" r="6.1"/><circle cx="1037.1" cy="773.9" r="6.1"/><circle cx="1039.2" cy="776.7" r="6.1"/><circle cx="1040.9" cy="778.3" r="6.1"/><circle cx="1041.3" cy="766.4" r="6.1"/><circle cx="1041.3" cy="781.6" r="6.1"/><circle cx="1042.3" cy="805.7" r="6.1"/><circle cx="1043.4" cy="755.3" r="6.1"/><circle cx="1043.5" cy="771.7" r="6.1"/><circle cx="1046.1" cy="760.0" r="6.1"/><circle cx="1047.5" cy="779.2" r="6.1"/><circle cx="1047.6" cy="787.2" r="6.1"/><circle cx="1048.6" cy="783.8" r="6.1"/><circle cx="1049.6" cy="762.6" r="6.1"/><circle cx="1049.9" cy="773.7" r="6.1"/><circle cx="1050.9" cy="779.7" r="6.1"/><circle cx="1052.7" cy="818.2" r="6.1"/><circle cx="1055.5" cy="782.0" r="6.1"/><circle cx="1057.3" cy="767.4" r="6.1"/><circle cx="1058.8" cy="766.0" r="6.1"/><circle cx="1060.9" cy="778.5" r="6.1"/><circle cx="1061.0" cy="746.0" r="6.1"/><circle cx="1061.0" cy="761.1" r="6.1"/><circle cx="1061.5" cy="762.3" r="6.1"/><circle cx="1061.7" cy="766.5" r="6.1"/><circle cx="1064.2" cy="818.2" r="6.1"/><circle cx="1064.7" cy="778.7" r="6.1"/><circle cx="1065.2" cy="806.8" r="6.1"/><circle cx="1065.5" cy="762.2" r="6.1"/><circle cx="1066.1" cy="756.2" r="6.1"/><circle cx="1066.2" cy="725.2" r="6.1"/><circle cx="1068.2" cy="758.6" r="6.1"/><circle cx="1068.3" cy="752.2" r="6.1"/><circle cx="1068.7" cy="752.8" r="6.1"/><circle cx="1071.4" cy="765.8" r="6.1"/><circle cx="1072.5" cy="732.5" r="6.1"/><circle cx="1073.6" cy="761.9" r="6.1"/><circle cx="1074.3" cy="744.6" r="6.1"/><circle cx="1074.5" cy="765.5" r="6.1"/><circle cx="1075.6" cy="784.4" r="6.1"/><circle cx="1075.8" cy="743.5" r="6.1"/><circle cx="1076.9" cy="741.2" r="6.1"/><circle cx="1079.7" cy="760.0" r="6.1"/><circle cx="1081.8" cy="748.1" r="6.1"/><circle cx="1081.8" cy="820.3" r="6.1"/><circle cx="1081.9" cy="763.1" r="6.1"/><circle cx="1083.7" cy="747.0" r="6.1"/><circle cx="1084.6" cy="758.1" r="6.1"/><circle cx="1084.9" cy="735.6" r="6.1"/><circle cx="1085.9" cy="752.4" r="6.1"/><circle cx="1086.0" cy="841.5" r="6.1"/><circle cx="1087.0" cy="756.2" r="6.1"/><circle cx="1089.1" cy="794.8" r="6.1"/><circle cx="1090.9" cy="758.6" r="6.1"/><circle cx="1095.3" cy="740.8" r="6.1"/><circle cx="1096.1" cy="737.0" r="6.1"/><circle cx="1096.9" cy="742.9" r="6.1"/><circle cx="1098.4" cy="754.0" r="6.1"/><circle cx="1099.5" cy="724.2" r="6.1"/><circle cx="1099.5" cy="754.4" r="6.1"/><circle cx="1101.0" cy="747.1" r="6.1"/><circle cx="1101.6" cy="744.2" r="6.1"/><circle cx="1103.9" cy="731.4" r="6.1"/><circle cx="1105.4" cy="736.6" r="6.1"/><circle cx="1105.4" cy="751.2" r="6.1"/><circle cx="1105.7" cy="809.9" r="6.1"/><circle cx="1106.6" cy="738.7" r="6.1"/><circle cx="1106.8" cy="741.7" r="6.1"/><circle cx="1107.8" cy="732.5" r="6.1"/><circle cx="1110.8" cy="730.8" r="6.1"/><circle cx="1111.4" cy="746.8" r="6.1"/><circle cx="1111.9" cy="734.5" r="6.1"/><circle cx="1111.9" cy="819.2" r="6.1"/><circle cx="1112.4" cy="748.2" r="6.1"/><circle cx="1114.0" cy="698.2" r="6.1"/><circle cx="1115.0" cy="742.8" r="6.1"/><circle cx="1116.0" cy="727.5" r="6.1"/><circle cx="1117.0" cy="744.9" r="6.1"/><circle cx="1117.1" cy="725.2" r="6.1"/><circle cx="1118.9" cy="729.2" r="6.1"/><circle cx="1119.8" cy="738.3" r="6.1"/><circle cx="1123.1" cy="752.2" r="6.1"/><circle cx="1124.2" cy="714.8" r="6.1"/><circle cx="1124.2" cy="723.1" r="6.1"/><circle cx="1125.1" cy="720.8" r="6.1"/><circle cx="1125.6" cy="718.8" r="6.1"/><circle cx="1126.7" cy="714.0" r="6.1"/><circle cx="1128.0" cy="716.5" r="6.1"/><circle cx="1128.3" cy="727.2" r="6.1"/><circle cx="1128.7" cy="1068.4" r="6.1"/><circle cx="1128.8" cy="724.3" r="6.1"/><circle cx="1129.1" cy="730.9" r="6.1"/><circle cx="1129.4" cy="693.0" r="6.1"/><circle cx="1131.3" cy="737.2" r="6.1"/><circle cx="1131.7" cy="737.0" r="6.1"/><circle cx="1131.7" cy="737.0" r="6.1"/><circle cx="1131.8" cy="722.4" r="6.1"/><circle cx="1132.3" cy="735.7" r="6.1"/><circle cx="1132.7" cy="736.4" r="6.1"/><circle cx="1132.7" cy="709.6" r="6.1"/><circle cx="1133.1" cy="711.5" r="6.1"/><circle cx="1134.3" cy="704.6" r="6.1"/><circle cx="1135.0" cy="727.5" r="6.1"/><circle cx="1135.2" cy="711.7" r="6.1"/><circle cx="1136.7" cy="721.2" r="6.1"/><circle cx="1137.9" cy="697.1" r="6.1"/><circle cx="1138.1" cy="708.8" r="6.1"/><circle cx="1139.6" cy="727.4" r="6.1"/><circle cx="1139.6" cy="712.5" r="6.1"/><circle cx="1139.7" cy="711.7" r="6.1"/><circle cx="1144.9" cy="691.9" r="6.1"/><circle cx="1148.8" cy="719.2" r="6.1"/><circle cx="1151.2" cy="707.5" r="6.1"/><circle cx="1153.0" cy="710.8" r="6.1"/><circle cx="1153.2" cy="680.5" r="6.1"/><circle cx="1154.3" cy="738.7" r="6.1"/><circle cx="1156.4" cy="659.7" r="6.1"/><circle cx="1156.4" cy="705.1" r="6.1"/><circle cx="1158.4" cy="794.8" r="6.1"/><circle cx="1161.6" cy="687.8" r="6.1"/><circle cx="1163.4" cy="699.4" r="6.1"/><circle cx="1163.6" cy="698.2" r="6.1"/><circle cx="1165.3" cy="695.8" r="6.1"/><circle cx="1166.4" cy="695.9" r="6.1"/><circle cx="1167.0" cy="693.7" r="6.1"/><circle cx="1167.1" cy="697.7" r="6.1"/><circle cx="1168.8" cy="726.2" r="6.1"/><circle cx="1169.7" cy="709.2" r="6.1"/><circle cx="1170.9" cy="673.2" r="6.1"/><circle cx="1173.0" cy="694.0" r="6.1"/><circle cx="1176.1" cy="677.4" r="6.1"/><circle cx="1178.2" cy="675.3" r="6.1"/><circle cx="1178.3" cy="703.0" r="6.1"/><circle cx="1178.7" cy="677.3" r="6.1"/><circle cx="1179.0" cy="703.8" r="6.1"/><circle cx="1180.3" cy="715.8" r="6.1"/><circle cx="1181.1" cy="693.8" r="6.1"/><circle cx="1182.0" cy="680.7" r="6.1"/><circle cx="1182.3" cy="697.1" r="6.1"/><circle cx="1186.5" cy="676.4" r="6.1"/><circle cx="1193.3" cy="691.4" r="6.1"/><circle cx="1193.8" cy="675.4" r="6.1"/><circle cx="1194.3" cy="685.7" r="6.1"/><circle cx="1195.3" cy="679.0" r="6.1"/><circle cx="1196.2" cy="662.9" r="6.1"/><circle cx="1196.9" cy="671.2" r="6.1"/><circle cx="1199.0" cy="685.7" r="6.1"/><circle cx="1199.0" cy="689.9" r="6.1"/><circle cx="1199.5" cy="677.8" r="6.1"/><circle cx="1199.5" cy="668.7" r="6.1"/><circle cx="1200.0" cy="675.5" r="6.1"/><circle cx="1201.0" cy="792.7" r="6.1"/><circle cx="1201.2" cy="684.4" r="6.1"/><circle cx="1201.9" cy="689.7" r="6.1"/><circle cx="1202.1" cy="687.9" r="6.1"/><circle cx="1203.1" cy="641.0" r="6.1"/><circle cx="1205.4" cy="676.2" r="6.1"/><circle cx="1206.3" cy="675.3" r="6.1"/><circle cx="1207.3" cy="666.0" r="6.1"/><circle cx="1207.3" cy="701.3" r="6.1"/><circle cx="1208.7" cy="685.5" r="6.1"/><circle cx="1209.4" cy="645.2" r="6.1"/><circle cx="1210.2" cy="683.3" r="6.1"/><circle cx="1211.4" cy="675.2" r="6.1"/><circle cx="1211.4" cy="659.7" r="6.1"/><circle cx="1211.4" cy="655.6" r="6.1"/><circle cx="1212.2" cy="683.1" r="6.1"/><circle cx="1213.0" cy="667.2" r="6.1"/><circle cx="1214.5" cy="673.2" r="6.1"/><circle cx="1215.0" cy="649.8" r="6.1"/><circle cx="1215.6" cy="637.9" r="6.1"/><circle cx="1216.5" cy="662.1" r="6.1"/><circle cx="1217.7" cy="662.9" r="6.1"/><circle cx="1219.7" cy="684.7" r="6.1"/><circle cx="1220.2" cy="646.1" r="6.1"/><circle cx="1221.3" cy="648.5" r="6.1"/><circle cx="1221.5" cy="1068.4" r="6.1"/><circle cx="1221.7" cy="663.5" r="6.1"/><circle cx="1222.5" cy="675.8" r="6.1"/><circle cx="1224.5" cy="648.7" r="6.1"/><circle cx="1224.7" cy="671.0" r="6.1"/><circle cx="1225.3" cy="650.3" r="6.1"/><circle cx="1226.0" cy="645.2" r="6.1"/><circle cx="1226.3" cy="654.5" r="6.1"/><circle cx="1227.0" cy="626.5" r="6.1"/><circle cx="1227.9" cy="663.4" r="6.1"/><circle cx="1228.5" cy="668.0" r="6.1"/><circle cx="1229.1" cy="696.1" r="6.1"/><circle cx="1229.2" cy="664.7" r="6.1"/><circle cx="1230.4" cy="665.1" r="6.1"/><circle cx="1230.4" cy="643.9" r="6.1"/><circle cx="1232.2" cy="681.6" r="6.1"/><circle cx="1234.3" cy="649.4" r="6.1"/><circle cx="1236.4" cy="659.7" r="6.1"/><circle cx="1238.0" cy="721.0" r="6.1"/><circle cx="1239.3" cy="640.0" r="6.1"/><circle cx="1241.6" cy="628.6" r="6.1"/><circle cx="1241.7" cy="652.6" r="6.1"/><circle cx="1241.9" cy="657.7" r="6.1"/><circle cx="1242.6" cy="641.0" r="6.1"/><circle cx="1243.9" cy="650.0" r="6.1"/><circle cx="1245.7" cy="684.7" r="6.1"/><circle cx="1246.5" cy="640.8" r="6.1"/><circle cx="1246.6" cy="632.4" r="6.1"/><circle cx="1247.8" cy="657.8" r="6.1"/><circle cx="1248.5" cy="646.0" r="6.1"/><circle cx="1248.8" cy="597.1" r="6.1"/><circle cx="1249.9" cy="639.0" r="6.1"/><circle cx="1253.0" cy="711.7" r="6.1"/><circle cx="1255.7" cy="632.8" r="6.1"/><circle cx="1255.9" cy="649.8" r="6.1"/><circle cx="1256.1" cy="693.0" r="6.1"/><circle cx="1256.5" cy="635.2" r="6.1"/><circle cx="1258.2" cy="601.3" r="6.1"/><circle cx="1259.2" cy="626.5" r="6.1"/><circle cx="1259.8" cy="638.6" r="6.1"/><circle cx="1260.1" cy="633.4" r="6.1"/><circle cx="1261.3" cy="640.0" r="6.1"/><circle cx="1261.8" cy="629.1" r="6.1"/><circle cx="1262.0" cy="631.2" r="6.1"/><circle cx="1262.3" cy="810.3" r="6.1"/><circle cx="1264.2" cy="645.9" r="6.1"/><circle cx="1264.4" cy="615.8" r="6.1"/><circle cx="1265.7" cy="644.7" r="6.1"/><circle cx="1265.8" cy="633.1" r="6.1"/><circle cx="1266.0" cy="632.8" r="6.1"/><circle cx="1266.2" cy="641.7" r="6.1"/><circle cx="1266.5" cy="749.1" r="6.1"/><circle cx="1266.6" cy="618.4" r="6.1"/><circle cx="1267.5" cy="643.4" r="6.1"/><circle cx="1267.5" cy="606.5" r="6.1"/><circle cx="1269.5" cy="629.1" r="6.1"/><circle cx="1269.6" cy="807.4" r="6.1"/><circle cx="1270.6" cy="595.1" r="6.1"/><circle cx="1271.1" cy="634.5" r="6.1"/><circle cx="1275.8" cy="652.5" r="6.1"/><circle cx="1276.0" cy="634.8" r="6.1"/><circle cx="1276.2" cy="626.0" r="6.1"/><circle cx="1277.6" cy="636.0" r="6.1"/><circle cx="1277.6" cy="630.4" r="6.1"/><circle cx="1279.0" cy="629.8" r="6.1"/><circle cx="1280.0" cy="616.9" r="6.1"/><circle cx="1281.0" cy="763.6" r="6.1"/><circle cx="1281.5" cy="606.3" r="6.1"/><circle cx="1282.8" cy="600.9" r="6.1"/><circle cx="1283.0" cy="629.2" r="6.1"/><circle cx="1283.8" cy="613.8" r="6.1"/><circle cx="1284.2" cy="594.0" r="6.1"/><circle cx="1285.7" cy="627.2" r="6.1"/><circle cx="1286.5" cy="597.6" r="6.1"/><circle cx="1293.0" cy="624.6" r="6.1"/><circle cx="1294.5" cy="595.1" r="6.1"/><circle cx="1294.5" cy="616.1" r="6.1"/><circle cx="1295.4" cy="622.8" r="6.1"/><circle cx="1296.6" cy="610.6" r="6.1"/><circle cx="1298.0" cy="596.8" r="6.1"/><circle cx="1298.3" cy="620.6" r="6.1"/><circle cx="1298.4" cy="604.8" r="6.1"/><circle cx="1298.7" cy="563.9" r="6.1"/><circle cx="1299.0" cy="614.6" r="6.1"/><circle cx="1299.4" cy="617.2" r="6.1"/><circle cx="1300.8" cy="640.0" r="6.1"/><circle cx="1302.3" cy="593.6" r="6.1"/><circle cx="1302.9" cy="570.1" r="6.1"/><circle cx="1302.9" cy="617.3" r="6.1"/><circle cx="1303.9" cy="603.4" r="6.1"/><circle cx="1304.7" cy="594.6" r="6.1"/><circle cx="1305.9" cy="615.0" r="6.1"/><circle cx="1307.0" cy="572.5" r="6.1"/><circle cx="1307.0" cy="588.8" r="6.1"/><circle cx="1309.2" cy="610.9" r="6.1"/><circle cx="1309.9" cy="597.8" r="6.1"/><circle cx="1310.6" cy="591.1" r="6.1"/><circle cx="1311.5" cy="610.8" r="6.1"/><circle cx="1312.2" cy="610.3" r="6.1"/><circle cx="1313.2" cy="553.5" r="6.1"/><circle cx="1315.3" cy="564.9" r="6.1"/><circle cx="1315.3" cy="584.3" r="6.1"/><circle cx="1315.4" cy="601.3" r="6.1"/><circle cx="1316.9" cy="606.3" r="6.1"/><circle cx="1317.0" cy="606.7" r="6.1"/><circle cx="1317.4" cy="597.1" r="6.1"/><circle cx="1317.7" cy="584.7" r="6.1"/><circle cx="1318.8" cy="597.3" r="6.1"/><circle cx="1318.8" cy="586.9" r="6.1"/><circle cx="1319.8" cy="604.5" r="6.1"/><circle cx="1319.8" cy="599.6" r="6.1"/><circle cx="1320.5" cy="640.0" r="6.1"/><circle cx="1321.3" cy="603.4" r="6.1"/><circle cx="1321.6" cy="573.2" r="6.1"/><circle cx="1322.0" cy="582.9" r="6.1"/><circle cx="1323.5" cy="593.4" r="6.1"/><circle cx="1324.9" cy="578.7" r="6.1"/><circle cx="1327.1" cy="576.5" r="6.1"/><circle cx="1327.8" cy="579.5" r="6.1"/><circle cx="1327.8" cy="628.6" r="6.1"/><circle cx="1328.2" cy="590.1" r="6.1"/><circle cx="1328.8" cy="554.5" r="6.1"/><circle cx="1329.4" cy="590.1" r="6.1"/><circle cx="1329.9" cy="563.9" r="6.1"/><circle cx="1331.2" cy="563.5" r="6.1"/><circle cx="1336.1" cy="636.9" r="6.1"/><circle cx="1336.2" cy="560.5" r="6.1"/><circle cx="1336.8" cy="590.8" r="6.1"/><circle cx="1338.2" cy="573.2" r="6.1"/><circle cx="1338.4" cy="581.1" r="6.1"/><circle cx="1339.8" cy="565.5" r="6.1"/><circle cx="1340.3" cy="584.7" r="6.1"/><circle cx="1341.1" cy="572.4" r="6.1"/><circle cx="1343.5" cy="571.6" r="6.1"/><circle cx="1344.4" cy="610.6" r="6.1"/><circle cx="1346.2" cy="565.1" r="6.1"/><circle cx="1346.5" cy="563.9" r="6.1"/><circle cx="1346.9" cy="583.8" r="6.1"/><circle cx="1348.4" cy="559.1" r="6.1"/><circle cx="1348.4" cy="557.6" r="6.1"/><circle cx="1350.7" cy="571.6" r="6.1"/><circle cx="1350.7" cy="579.5" r="6.1"/><circle cx="1351.3" cy="568.0" r="6.1"/><circle cx="1352.3" cy="579.6" r="6.1"/><circle cx="1352.3" cy="579.6" r="6.1"/><circle cx="1352.7" cy="548.3" r="6.1"/><circle cx="1352.8" cy="564.4" r="6.1"/><circle cx="1353.5" cy="529.9" r="6.1"/><circle cx="1354.2" cy="563.3" r="6.1"/><circle cx="1354.8" cy="595.1" r="6.1"/><circle cx="1355.8" cy="525.5" r="6.1"/><circle cx="1357.5" cy="565.7" r="6.1"/><circle cx="1357.6" cy="567.7" r="6.1"/><circle cx="1359.2" cy="550.9" r="6.1"/><circle cx="1360.4" cy="545.1" r="6.1"/><circle cx="1362.3" cy="571.7" r="6.1"/><circle cx="1362.9" cy="524.7" r="6.1"/><circle cx="1364.8" cy="552.4" r="6.1"/><circle cx="1366.0" cy="546.5" r="6.1"/><circle cx="1366.9" cy="553.6" r="6.1"/><circle cx="1367.6" cy="564.7" r="6.1"/><circle cx="1368.4" cy="538.6" r="6.1"/><circle cx="1368.5" cy="549.9" r="6.1"/><circle cx="1369.1" cy="659.3" r="6.1"/><circle cx="1369.1" cy="556.0" r="6.1"/><circle cx="1369.4" cy="543.0" r="6.1"/><circle cx="1370.1" cy="559.9" r="6.1"/><circle cx="1370.1" cy="565.5" r="6.1"/><circle cx="1370.7" cy="560.6" r="6.1"/><circle cx="1372.2" cy="526.8" r="6.1"/><circle cx="1373.2" cy="517.4" r="6.1"/><circle cx="1375.7" cy="559.5" r="6.1"/><circle cx="1377.4" cy="553.8" r="6.1"/><circle cx="1378.2" cy="547.7" r="6.1"/><circle cx="1378.4" cy="540.7" r="6.1"/><circle cx="1378.7" cy="552.3" r="6.1"/><circle cx="1380.5" cy="557.2" r="6.1"/><circle cx="1382.6" cy="613.6" r="6.1"/><circle cx="1382.8" cy="532.9" r="6.1"/><circle cx="1383.6" cy="571.4" r="6.1"/><circle cx="1384.7" cy="483.1" r="6.1"/><circle cx="1385.7" cy="553.1" r="6.1"/><circle cx="1387.6" cy="545.7" r="6.1"/><circle cx="1387.8" cy="535.1" r="6.1"/><circle cx="1389.4" cy="547.0" r="6.1"/><circle cx="1390.7" cy="529.9" r="6.1"/><circle cx="1392.7" cy="544.2" r="6.1"/><circle cx="1393.0" cy="497.7" r="6.1"/><circle cx="1393.3" cy="546.9" r="6.1"/><circle cx="1394.3" cy="530.3" r="6.1"/><circle cx="1396.1" cy="489.4" r="6.1"/><circle cx="1396.1" cy="566.2" r="6.1"/><circle cx="1398.4" cy="534.4" r="6.1"/><circle cx="1398.7" cy="526.7" r="6.1"/><circle cx="1398.8" cy="522.9" r="6.1"/><circle cx="1400.3" cy="509.1" r="6.1"/><circle cx="1401.3" cy="525.2" r="6.1"/><circle cx="1402.3" cy="528.8" r="6.1"/><circle cx="1404.8" cy="537.5" r="6.1"/><circle cx="1404.9" cy="504.6" r="6.1"/><circle cx="1405.1" cy="524.5" r="6.1"/><circle cx="1406.9" cy="683.6" r="6.1"/><circle cx="1408.6" cy="496.6" r="6.1"/><circle cx="1409.1" cy="528.5" r="6.1"/><circle cx="1411.6" cy="525.5" r="6.1"/><circle cx="1412.7" cy="515.3" r="6.1"/><circle cx="1413.2" cy="513.2" r="6.1"/><circle cx="1413.6" cy="529.6" r="6.1"/><circle cx="1413.8" cy="530.1" r="6.1"/><circle cx="1415.8" cy="477.9" r="6.1"/><circle cx="1416.6" cy="507.0" r="6.1"/><circle cx="1416.7" cy="508.3" r="6.1"/><circle cx="1417.1" cy="511.7" r="6.1"/><circle cx="1417.9" cy="485.2" r="6.1"/><circle cx="1419.2" cy="492.5" r="6.1"/><circle cx="1419.9" cy="497.8" r="6.1"/><circle cx="1421.0" cy="520.1" r="6.1"/><circle cx="1421.4" cy="504.8" r="6.1"/><circle cx="1421.9" cy="498.6" r="6.1"/><circle cx="1422.2" cy="500.1" r="6.1"/><circle cx="1422.5" cy="491.9" r="6.1"/><circle cx="1424.7" cy="506.6" r="6.1"/><circle cx="1425.2" cy="510.1" r="6.1"/><circle cx="1426.2" cy="487.3" r="6.1"/><circle cx="1428.0" cy="502.2" r="6.1"/><circle cx="1428.3" cy="548.6" r="6.1"/><circle cx="1428.7" cy="507.9" r="6.1"/><circle cx="1430.4" cy="502.9" r="6.1"/><circle cx="1431.4" cy="459.2" r="6.1"/><circle cx="1431.8" cy="496.2" r="6.1"/><circle cx="1432.2" cy="489.0" r="6.1"/><circle cx="1433.5" cy="535.1" r="6.1"/><circle cx="1433.9" cy="511.0" r="6.1"/><circle cx="1434.4" cy="488.0" r="6.1"/><circle cx="1434.6" cy="512.7" r="6.1"/><circle cx="1437.7" cy="482.5" r="6.1"/><circle cx="1438.2" cy="497.9" r="6.1"/><circle cx="1442.1" cy="474.0" r="6.1"/><circle cx="1443.9" cy="462.3" r="6.1"/><circle cx="1443.9" cy="491.4" r="6.1"/><circle cx="1444.8" cy="501.1" r="6.1"/><circle cx="1445.5" cy="486.4" r="6.1"/><circle cx="1450.9" cy="491.4" r="6.1"/><circle cx="1452.2" cy="471.7" r="6.1"/><circle cx="1452.9" cy="476.2" r="6.1"/><circle cx="1453.4" cy="496.8" r="6.1"/><circle cx="1453.5" cy="488.0" r="6.1"/><circle cx="1454.2" cy="481.5" r="6.1"/><circle cx="1455.6" cy="494.9" r="6.1"/><circle cx="1456.0" cy="475.9" r="6.1"/><circle cx="1457.5" cy="493.2" r="6.1"/><circle cx="1459.5" cy="464.4" r="6.1"/><circle cx="1461.4" cy="475.0" r="6.1"/><circle cx="1461.6" cy="480.0" r="6.1"/><circle cx="1462.5" cy="473.2" r="6.1"/><circle cx="1462.6" cy="436.4" r="6.1"/><circle cx="1464.7" cy="613.0" r="6.1"/><circle cx="1465.0" cy="472.4" r="6.1"/><circle cx="1467.5" cy="484.6" r="6.1"/><circle cx="1467.8" cy="501.4" r="6.1"/><circle cx="1468.2" cy="516.4" r="6.1"/><circle cx="1469.1" cy="455.6" r="6.1"/><circle cx="1471.9" cy="472.7" r="6.1"/><circle cx="1473.4" cy="590.1" r="6.1"/><circle cx="1477.1" cy="437.4" r="6.1"/><circle cx="1478.5" cy="461.3" r="6.1"/><circle cx="1478.8" cy="459.1" r="6.1"/><circle cx="1481.9" cy="448.0" r="6.1"/><circle cx="1482.3" cy="495.6" r="6.1"/><circle cx="1483.0" cy="455.7" r="6.1"/><circle cx="1483.4" cy="443.6" r="6.1"/><circle cx="1484.2" cy="469.9" r="6.1"/><circle cx="1484.4" cy="460.3" r="6.1"/><circle cx="1486.1" cy="522.2" r="6.1"/><circle cx="1489.6" cy="449.9" r="6.1"/><circle cx="1493.0" cy="454.2" r="6.1"/><circle cx="1495.8" cy="436.4" r="6.1"/><circle cx="1497.8" cy="442.0" r="6.1"/><circle cx="1497.9" cy="416.9" r="6.1"/><circle cx="1500.0" cy="450.3" r="6.1"/><circle cx="1500.0" cy="446.8" r="6.1"/><circle cx="1500.0" cy="432.0" r="6.1"/><circle cx="1501.3" cy="436.8" r="6.1"/><circle cx="1504.2" cy="408.6" r="6.1"/><circle cx="1505.0" cy="451.4" r="6.1"/><circle cx="1507.5" cy="431.7" r="6.1"/><circle cx="1507.8" cy="439.5" r="6.1"/><circle cx="1508.4" cy="441.6" r="6.1"/><circle cx="1509.4" cy="463.4" r="6.1"/><circle cx="1511.8" cy="435.5" r="6.1"/><circle cx="1514.5" cy="433.2" r="6.1"/><circle cx="1515.1" cy="442.2" r="6.1"/><circle cx="1515.6" cy="411.7" r="6.1"/><circle cx="1516.2" cy="437.5" r="6.1"/><circle cx="1516.6" cy="398.2" r="6.1"/><circle cx="1517.6" cy="440.0" r="6.1"/><circle cx="1518.7" cy="482.1" r="6.1"/><circle cx="1519.7" cy="422.8" r="6.1"/><circle cx="1521.2" cy="401.8" r="6.1"/><circle cx="1522.9" cy="459.2" r="6.1"/><circle cx="1523.9" cy="416.9" r="6.1"/><circle cx="1526.0" cy="482.1" r="6.1"/><circle cx="1528.2" cy="430.2" r="6.1"/><circle cx="1529.1" cy="397.1" r="6.1"/><circle cx="1529.7" cy="421.6" r="6.1"/><circle cx="1533.3" cy="400.4" r="6.1"/><circle cx="1535.3" cy="440.5" r="6.1"/><circle cx="1536.4" cy="386.8" r="6.1"/><circle cx="1537.5" cy="420.6" r="6.1"/><circle cx="1539.5" cy="367.0" r="6.1"/><circle cx="1540.0" cy="419.3" r="6.1"/><circle cx="1540.2" cy="404.9" r="6.1"/><circle cx="1540.5" cy="405.5" r="6.1"/><circle cx="1540.7" cy="418.7" r="6.1"/><circle cx="1541.4" cy="400.9" r="6.1"/><circle cx="1542.8" cy="401.2" r="6.1"/><circle cx="1543.4" cy="402.7" r="6.1"/><circle cx="1544.7" cy="384.7" r="6.1"/><circle cx="1545.2" cy="414.5" r="6.1"/><circle cx="1546.4" cy="389.0" r="6.1"/><circle cx="1547.8" cy="376.4" r="6.1"/><circle cx="1547.8" cy="543.4" r="6.1"/><circle cx="1548.8" cy="411.1" r="6.1"/><circle cx="1549.6" cy="410.4" r="6.1"/><circle cx="1550.1" cy="409.9" r="6.1"/><circle cx="1552.5" cy="403.2" r="6.1"/><circle cx="1554.0" cy="401.3" r="6.1"/><circle cx="1556.1" cy="370.1" r="6.1"/><circle cx="1559.2" cy="382.6" r="6.1"/><circle cx="1559.8" cy="380.0" r="6.1"/><circle cx="1561.0" cy="393.8" r="6.1"/><circle cx="1561.0" cy="430.1" r="6.1"/><circle cx="1561.8" cy="388.7" r="6.1"/><circle cx="1566.2" cy="358.4" r="6.1"/><circle cx="1566.5" cy="393.2" r="6.1"/><circle cx="1567.3" cy="349.1" r="6.1"/><circle cx="1568.1" cy="392.9" r="6.1"/><circle cx="1568.3" cy="384.4" r="6.1"/><circle cx="1569.4" cy="433.2" r="6.1"/><circle cx="1571.4" cy="372.3" r="6.1"/><circle cx="1571.4" cy="338.7" r="6.1"/><circle cx="1573.4" cy="383.9" r="6.1"/><circle cx="1573.5" cy="379.5" r="6.1"/><circle cx="1573.5" cy="373.0" r="6.1"/><circle cx="1574.2" cy="387.1" r="6.1"/><circle cx="1575.6" cy="419.1" r="6.1"/><circle cx="1576.9" cy="367.0" r="6.1"/><circle cx="1578.5" cy="358.9" r="6.1"/><circle cx="1578.7" cy="368.2" r="6.1"/><circle cx="1579.4" cy="371.6" r="6.1"/><circle cx="1580.8" cy="338.7" r="6.1"/><circle cx="1580.8" cy="351.8" r="6.1"/><circle cx="1581.4" cy="380.1" r="6.1"/><circle cx="1582.0" cy="379.6" r="6.1"/><circle cx="1582.9" cy="364.7" r="6.1"/><circle cx="1584.5" cy="492.6" r="6.1"/><circle cx="1584.9" cy="331.4" r="6.1"/><circle cx="1585.0" cy="355.1" r="6.1"/><circle cx="1586.9" cy="362.6" r="6.1"/><circle cx="1587.0" cy="320.0" r="6.1"/><circle cx="1593.2" cy="344.9" r="6.1"/><circle cx="1593.5" cy="368.4" r="6.1"/><circle cx="1594.3" cy="328.3" r="6.1"/><circle cx="1594.5" cy="347.4" r="6.1"/><circle cx="1595.4" cy="360.6" r="6.1"/><circle cx="1596.1" cy="329.0" r="6.1"/><circle cx="1596.9" cy="348.3" r="6.1"/><circle cx="1599.1" cy="337.1" r="6.1"/><circle cx="1599.5" cy="314.8" r="6.1"/><circle cx="1600.4" cy="346.9" r="6.1"/><circle cx="1601.6" cy="339.7" r="6.1"/><circle cx="1601.6" cy="340.1" r="6.1"/><circle cx="1602.8" cy="338.7" r="6.1"/><circle cx="1604.7" cy="354.8" r="6.1"/><circle cx="1605.4" cy="342.0" r="6.1"/><circle cx="1605.8" cy="346.8" r="6.1"/><circle cx="1606.1" cy="356.0" r="6.1"/><circle cx="1608.8" cy="331.6" r="6.1"/><circle cx="1609.9" cy="324.2" r="6.1"/><circle cx="1611.5" cy="350.6" r="6.1"/><circle cx="1611.9" cy="343.9" r="6.1"/><circle cx="1613.2" cy="346.8" r="6.1"/><circle cx="1615.3" cy="322.0" r="6.1"/><circle cx="1617.8" cy="330.0" r="6.1"/><circle cx="1618.6" cy="305.6" r="6.1"/><circle cx="1619.2" cy="335.4" r="6.1"/><circle cx="1619.4" cy="334.5" r="6.1"/><circle cx="1620.7" cy="367.8" r="6.1"/><circle cx="1620.8" cy="334.4" r="6.1"/><circle cx="1622.3" cy="332.5" r="6.1"/><circle cx="1623.1" cy="339.1" r="6.1"/><circle cx="1623.4" cy="317.9" r="6.1"/><circle cx="1623.5" cy="319.7" r="6.1"/><circle cx="1623.8" cy="325.6" r="6.1"/><circle cx="1624.3" cy="319.6" r="6.1"/><circle cx="1624.9" cy="337.2" r="6.1"/><circle cx="1625.5" cy="286.8" r="6.1"/><circle cx="1627.7" cy="299.6" r="6.1"/><circle cx="1628.8" cy="328.4" r="6.1"/><circle cx="1629.9" cy="308.5" r="6.1"/><circle cx="1630.1" cy="319.9" r="6.1"/><circle cx="1631.4" cy="301.5" r="6.1"/><circle cx="1631.7" cy="293.0" r="6.1"/><circle cx="1631.7" cy="324.8" r="6.1"/><circle cx="1631.8" cy="319.3" r="6.1"/><circle cx="1631.8" cy="322.4" r="6.1"/><circle cx="1631.9" cy="330.1" r="6.1"/><circle cx="1632.0" cy="326.1" r="6.1"/><circle cx="1632.7" cy="307.5" r="6.1"/><circle cx="1635.0" cy="309.9" r="6.1"/><circle cx="1635.5" cy="321.6" r="6.1"/><circle cx="1636.6" cy="299.8" r="6.1"/><circle cx="1639.0" cy="299.2" r="6.1"/><circle cx="1642.1" cy="358.9" r="6.1"/><circle cx="1644.3" cy="298.0" r="6.1"/><circle cx="1645.2" cy="306.5" r="6.1"/><circle cx="1646.2" cy="255.8" r="6.1"/><circle cx="1650.1" cy="283.0" r="6.1"/><circle cx="1651.4" cy="281.6" r="6.1"/><circle cx="1651.4" cy="302.3" r="6.1"/><circle cx="1651.9" cy="301.7" r="6.1"/><circle cx="1657.3" cy="304.1" r="6.1"/><circle cx="1661.8" cy="284.7" r="6.1"/><circle cx="1662.2" cy="299.0" r="6.1"/><circle cx="1663.1" cy="285.7" r="6.1"/><circle cx="1663.9" cy="274.9" r="6.1"/><circle cx="1666.7" cy="268.9" r="6.1"/><circle cx="1667.9" cy="260.9" r="6.1"/><circle cx="1668.1" cy="254.8" r="6.1"/><circle cx="1669.3" cy="274.6" r="6.1"/><circle cx="1669.7" cy="291.1" r="6.1"/><circle cx="1670.7" cy="278.5" r="6.1"/><circle cx="1671.8" cy="322.7" r="6.1"/><circle cx="1676.1" cy="284.4" r="6.1"/><circle cx="1676.3" cy="268.0" r="6.1"/><circle cx="1677.2" cy="271.9" r="6.1"/><circle cx="1678.4" cy="260.8" r="6.1"/><circle cx="1678.4" cy="280.5" r="6.1"/><circle cx="1680.5" cy="296.1" r="6.1"/><circle cx="1680.9" cy="258.3" r="6.1"/><circle cx="1681.4" cy="264.1" r="6.1"/><circle cx="1683.7" cy="259.2" r="6.1"/><circle cx="1685.7" cy="259.4" r="6.1"/><circle cx="1686.8" cy="254.5" r="6.1"/><circle cx="1687.7" cy="250.7" r="6.1"/><circle cx="1687.8" cy="221.6" r="6.1"/><circle cx="1689.4" cy="270.3" r="6.1"/><circle cx="1693.0" cy="253.8" r="6.1"/><circle cx="1693.0" cy="264.9" r="6.1"/><circle cx="1695.9" cy="246.1" r="6.1"/><circle cx="1696.1" cy="207.0" r="6.1"/><circle cx="1698.2" cy="249.6" r="6.1"/><circle cx="1699.5" cy="234.9" r="6.1"/><circle cx="1700.9" cy="228.8" r="6.1"/><circle cx="1701.3" cy="241.3" r="6.1"/><circle cx="1702.0" cy="226.7" r="6.1"/><circle cx="1703.4" cy="295.1" r="6.1"/><circle cx="1705.5" cy="224.7" r="6.1"/><circle cx="1705.9" cy="252.5" r="6.1"/><circle cx="1709.6" cy="206.6" r="6.1"/><circle cx="1711.7" cy="271.6" r="6.1"/><circle cx="1713.0" cy="235.6" r="6.1"/><circle cx="1713.3" cy="235.4" r="6.1"/><circle cx="1713.8" cy="234.0" r="6.1"/><circle cx="1716.7" cy="218.4" r="6.1"/><circle cx="1716.9" cy="200.9" r="6.1"/><circle cx="1718.5" cy="218.2" r="6.1"/><circle cx="1718.9" cy="210.3" r="6.1"/><circle cx="1724.2" cy="218.4" r="6.1"/><circle cx="1724.4" cy="213.1" r="6.1"/><circle cx="1725.3" cy="213.8" r="6.1"/><circle cx="1725.4" cy="210.2" r="6.1"/><circle cx="1725.4" cy="201.3" r="6.1"/><circle cx="1725.6" cy="213.3" r="6.1"/><circle cx="1726.2" cy="193.5" r="6.1"/><circle cx="1727.1" cy="189.4" r="6.1"/><circle cx="1728.3" cy="227.9" r="6.1"/><circle cx="1728.7" cy="209.5" r="6.1"/><circle cx="1729.9" cy="226.2" r="6.1"/><circle cx="1731.4" cy="185.2" r="6.1"/><circle cx="1732.1" cy="208.0" r="6.1"/><circle cx="1732.3" cy="186.0" r="6.1"/><circle cx="1734.4" cy="211.8" r="6.1"/><circle cx="1735.9" cy="184.9" r="6.1"/><circle cx="1736.2" cy="198.7" r="6.1"/><circle cx="1737.7" cy="213.2" r="6.1"/><circle cx="1739.1" cy="169.6" r="6.1"/><circle cx="1741.4" cy="192.5" r="6.1"/><circle cx="1743.9" cy="204.9" r="6.1"/><circle cx="1744.9" cy="229.9" r="6.1"/><circle cx="1746.0" cy="185.2" r="6.1"/><circle cx="1746.1" cy="181.9" r="6.1"/><circle cx="1747.0" cy="176.5" r="6.1"/><circle cx="1747.7" cy="181.3" r="6.1"/><circle cx="1747.8" cy="201.7" r="6.1"/><circle cx="1748.1" cy="202.9" r="6.1"/><circle cx="1748.5" cy="205.3" r="6.1"/><circle cx="1748.6" cy="195.5" r="6.1"/><circle cx="1751.2" cy="173.8" r="6.1"/><circle cx="1752.8" cy="143.6" r="6.1"/><circle cx="1755.3" cy="191.4" r="6.1"/><circle cx="1755.5" cy="178.2" r="6.1"/><circle cx="1758.3" cy="186.3" r="6.1"/><circle cx="1759.5" cy="156.1" r="6.1"/><circle cx="1759.7" cy="183.6" r="6.1"/><circle cx="1759.8" cy="192.5" r="6.1"/><circle cx="1761.3" cy="190.8" r="6.1"/><circle cx="1762.6" cy="180.0" r="6.1"/><circle cx="1763.2" cy="176.4" r="6.1"/><circle cx="1763.2" cy="173.4" r="6.1"/><circle cx="1764.0" cy="157.6" r="6.1"/><circle cx="1764.1" cy="166.9" r="6.1"/><circle cx="1773.8" cy="165.7" r="6.1"/><circle cx="1774.3" cy="170.3" r="6.1"/><circle cx="1775.1" cy="211.6" r="6.1"/><circle cx="1775.6" cy="155.9" r="6.1"/><circle cx="1775.6" cy="144.7" r="6.1"/><circle cx="1776.1" cy="163.4" r="6.1"/><circle cx="1776.2" cy="138.4" r="6.1"/><circle cx="1778.2" cy="170.6" r="6.1"/><circle cx="1780.3" cy="117.7" r="6.1"/><circle cx="1781.0" cy="156.2" r="6.1"/><circle cx="1782.8" cy="133.2" r="6.1"/></g>
<polyline points="128.50,1068.40 136.77,1068.37 145.05,1068.29 153.32,1068.15 161.59,1067.96 169.87,1067.71 178.14,1067.41 186.41,1067.05 194.69,1066.64 202.96,1066.18 211.23,1065.67 219.51,1065.10 227.78,1064.49 236.06,1063.82 244.33,1063.10 252.60,1062.33 260.88,1061.51 269.15,1060.64 277.42,1059.72 285.70,1058.76 293.97,1057.74 302.24,1056.68 310.52,1055.56 318.79,1054.40 327.06,1053.20 335.34,1051.94 343.61,1050.64 351.88,1049.29 360.16,1047.90 368.43,1046.46 376.70,1044.97 384.98,1043.44 393.25,1041.87 401.53,1040.25 409.80,1038.58 418.07,1036.87 426.35,1035.12 434.62,1033.32 442.89,1031.48 451.17,1029.60 459.44,1027.67 467.71,1025.70 475.99,1023.69 484.26,1021.64 492.53,1019.54 500.81,1017.40 509.08,1015.22 517.35,1013.00 525.63,1010.74 533.90,1008.43 542.17,1006.09 550.45,1003.70 558.72,1001.28 567.00,998.81 575.27,996.30 583.54,993.75 591.82,991.16 600.09,988.54 608.36,985.87 616.64,983.16 624.91,980.42 633.18,977.63 641.46,974.81 649.73,971.94 658.00,969.04 666.28,966.10 674.55,963.11 682.82,960.09 691.10,957.04 699.37,953.94 707.65,950.80 715.92,947.63 724.19,944.42 732.47,941.17 740.74,937.88 749.01,934.55 757.29,931.18 765.56,927.78 773.83,924.34 782.11,920.86 790.38,917.34 798.65,913.78 806.93,910.19 815.20,906.56 823.47,902.89 831.75,899.18 840.02,895.43 848.29,891.65 856.57,887.82 864.84,883.96 873.12,880.06 881.39,876.13 889.66,872.15 897.94,868.14 906.21,864.08 914.48,859.99 922.76,855.86 931.03,851.69 939.30,847.49 947.58,843.24 955.85,838.96 964.12,834.64 972.40,830.27 980.67,825.87 988.94,821.43 997.22,816.95 1005.49,812.43 1013.76,807.87 1022.04,803.27 1030.31,798.64 1038.58,793.96 1046.86,789.24 1055.13,784.48 1063.41,779.68 1071.68,774.84 1079.95,769.96 1088.23,765.04 1096.50,760.07 1104.77,755.07 1113.05,750.02 1121.32,744.94 1129.59,739.81 1137.87,734.64 1146.14,729.42 1154.41,724.17 1162.69,718.87 1170.96,713.53 1179.23,708.14 1187.51,702.71 1195.78,697.24 1204.05,691.72 1212.33,686.16 1220.60,680.56 1228.88,674.91 1237.15,669.21 1245.42,663.47 1253.70,657.69 1261.97,651.86 1270.24,645.98 1278.52,640.06 1286.79,634.09 1295.06,628.07 1303.34,622.01 1311.61,615.89 1319.88,609.73 1328.16,603.52 1336.43,597.27 1344.70,590.96 1352.98,584.61 1361.25,578.20 1369.53,571.75 1377.80,565.24 1386.07,558.69 1394.35,552.08 1402.62,545.42 1410.89,538.71 1419.17,531.95 1427.44,525.13 1435.71,518.26 1443.99,511.34 1452.26,504.37 1460.53,497.34 1468.81,490.25 1477.08,483.11 1485.35,475.92 1493.63,468.67 1501.90,461.36 1510.17,454.00 1518.45,446.57 1526.72,439.10 1535.00,431.56 1543.27,423.96 1551.54,416.31 1559.82,408.59 1568.09,400.82 1576.36,392.98 1584.64,385.09 1592.91,377.13 1601.18,369.11 1609.46,361.03 1617.73,352.88 1626.00,344.67 1634.28,336.40 1642.55,328.06 1650.82,319.66 1659.10,311.19 1667.37,302.65 1675.64,294.05 1683.92,285.38 1692.19,276.64 1700.47,267.84 1708.74,258.96 1717.01,250.02 1725.29,241.00 1733.56,231.92 1741.83,222.76 1750.11,213.53 1758.38,204.23 1766.65,194.86 1774.93,185.41 1783.20,175.88" fill="none" stroke="#231f20" stroke-width="10.7" stroke-linejoin="round"/>
<path d="M790.38 870.15 L806.10 897.38 L774.66 897.38Z" fill="#ec1c24" stroke="#231f20" stroke-width="3.2" stroke-linejoin="miter" stroke-miterlimit="10"/>
<path d="M1219.75 584.75h23.4v23.4h-23.4z" fill="#ec1c24" stroke="#231f20" stroke-width="3.2" stroke-linejoin="miter" stroke-miterlimit="10"/>
<path d="M1546.40 287.30 L1551.23 302.16 L1566.85 302.16 L1554.21 311.34 L1559.04 326.19 L1546.40 317.01 L1533.76 326.19 L1538.59 311.34 L1525.95 302.16 L1541.57 302.16Z" fill="#ec1c24" stroke="#231f20" stroke-width="3.2" stroke-linejoin="miter" stroke-miterlimit="10"/>
<path d="M1783.10 26.30 L1790.10 37.86 L1804.11 37.85 L1797.10 49.40 L1804.11 60.95 L1790.10 60.94 L1783.10 72.50 L1776.10 60.94 L1762.09 60.95 L1769.10 49.40 L1762.09 37.85 L1776.10 37.86Z" fill="#ec1c24" stroke="#231f20" stroke-width="3.2" stroke-linejoin="miter" stroke-miterlimit="10"/>
<rect x="167.5" y="66.5" width="694.9" height="448.0" fill="#ffffff" stroke="#47484b" stroke-width="3"/>
<g font-family="&quot;Liberation Sans&quot;, Arial, sans-serif" font-size="45.27" fill="#231f20">
<text x="344.2" y="121.80">n=500 RSR numerics</text>
<text x="344.2" y="184.13">n=2000 RSR numerics</text>
<text x="344.2" y="246.46">RSR (p, 2,3) asymptotics</text>
<text x="344.2" y="308.79">RSBR (2,3) asymptotics</text>
<text x="344.2" y="371.12">RSRB (2,4) asymptotics</text>
<text x="344.2" y="433.45">RSRB (2,5) asymptotics</text>
<text x="344.2" y="495.78">RSRB (2,6) asymptotics</text>
</g>
<path d="M252.0 97.8h12.0v12.0h-12.0z" stroke="#3953a4" stroke-width="3.6" fill="none"/>
<circle cx="258" cy="166.13" r="6.1" fill="#f3e917" stroke="#231f20" stroke-width="3.8"/>
<path d="M182.1 228.5H334" stroke="#231f20" stroke-width="10.7"/>
<path d="M257.50 272.59 L273.26 299.89 L241.74 299.89Z" fill="#ec1c24" stroke="#231f20" stroke-width="3.2" stroke-linejoin="miter" stroke-miterlimit="10"/>
<path d="M246.00 341.12h24.0v24.0h-24.0z" fill="#ec1c24" stroke="#231f20" stroke-width="3.2" stroke-linejoin="miter" stroke-miterlimit="10"/>
<path d="M257.50 393.85 L262.35 408.77 L278.04 408.78 L265.35 418.00 L270.20 432.92 L257.50 423.70 L244.80 432.92 L249.65 418.00 L236.96 408.78 L252.65 408.77Z" fill="#ec1c24" stroke="#231f20" stroke-width="3.2" stroke-linejoin="miter" stroke-miterlimit="10"/>
<path d="M257.50 455.78 L264.10 466.79 L277.31 466.78 L270.70 477.78 L277.31 488.78 L264.10 488.77 L257.50 499.78 L250.90 488.77 L237.69 488.78 L244.30 477.78 L237.69 466.78 L250.90 466.79Z" fill="#ec1c24" stroke="#231f20" stroke-width="3.2" stroke-linejoin="miter" stroke-miterlimit="10"/>
</svg>
</body></html>
